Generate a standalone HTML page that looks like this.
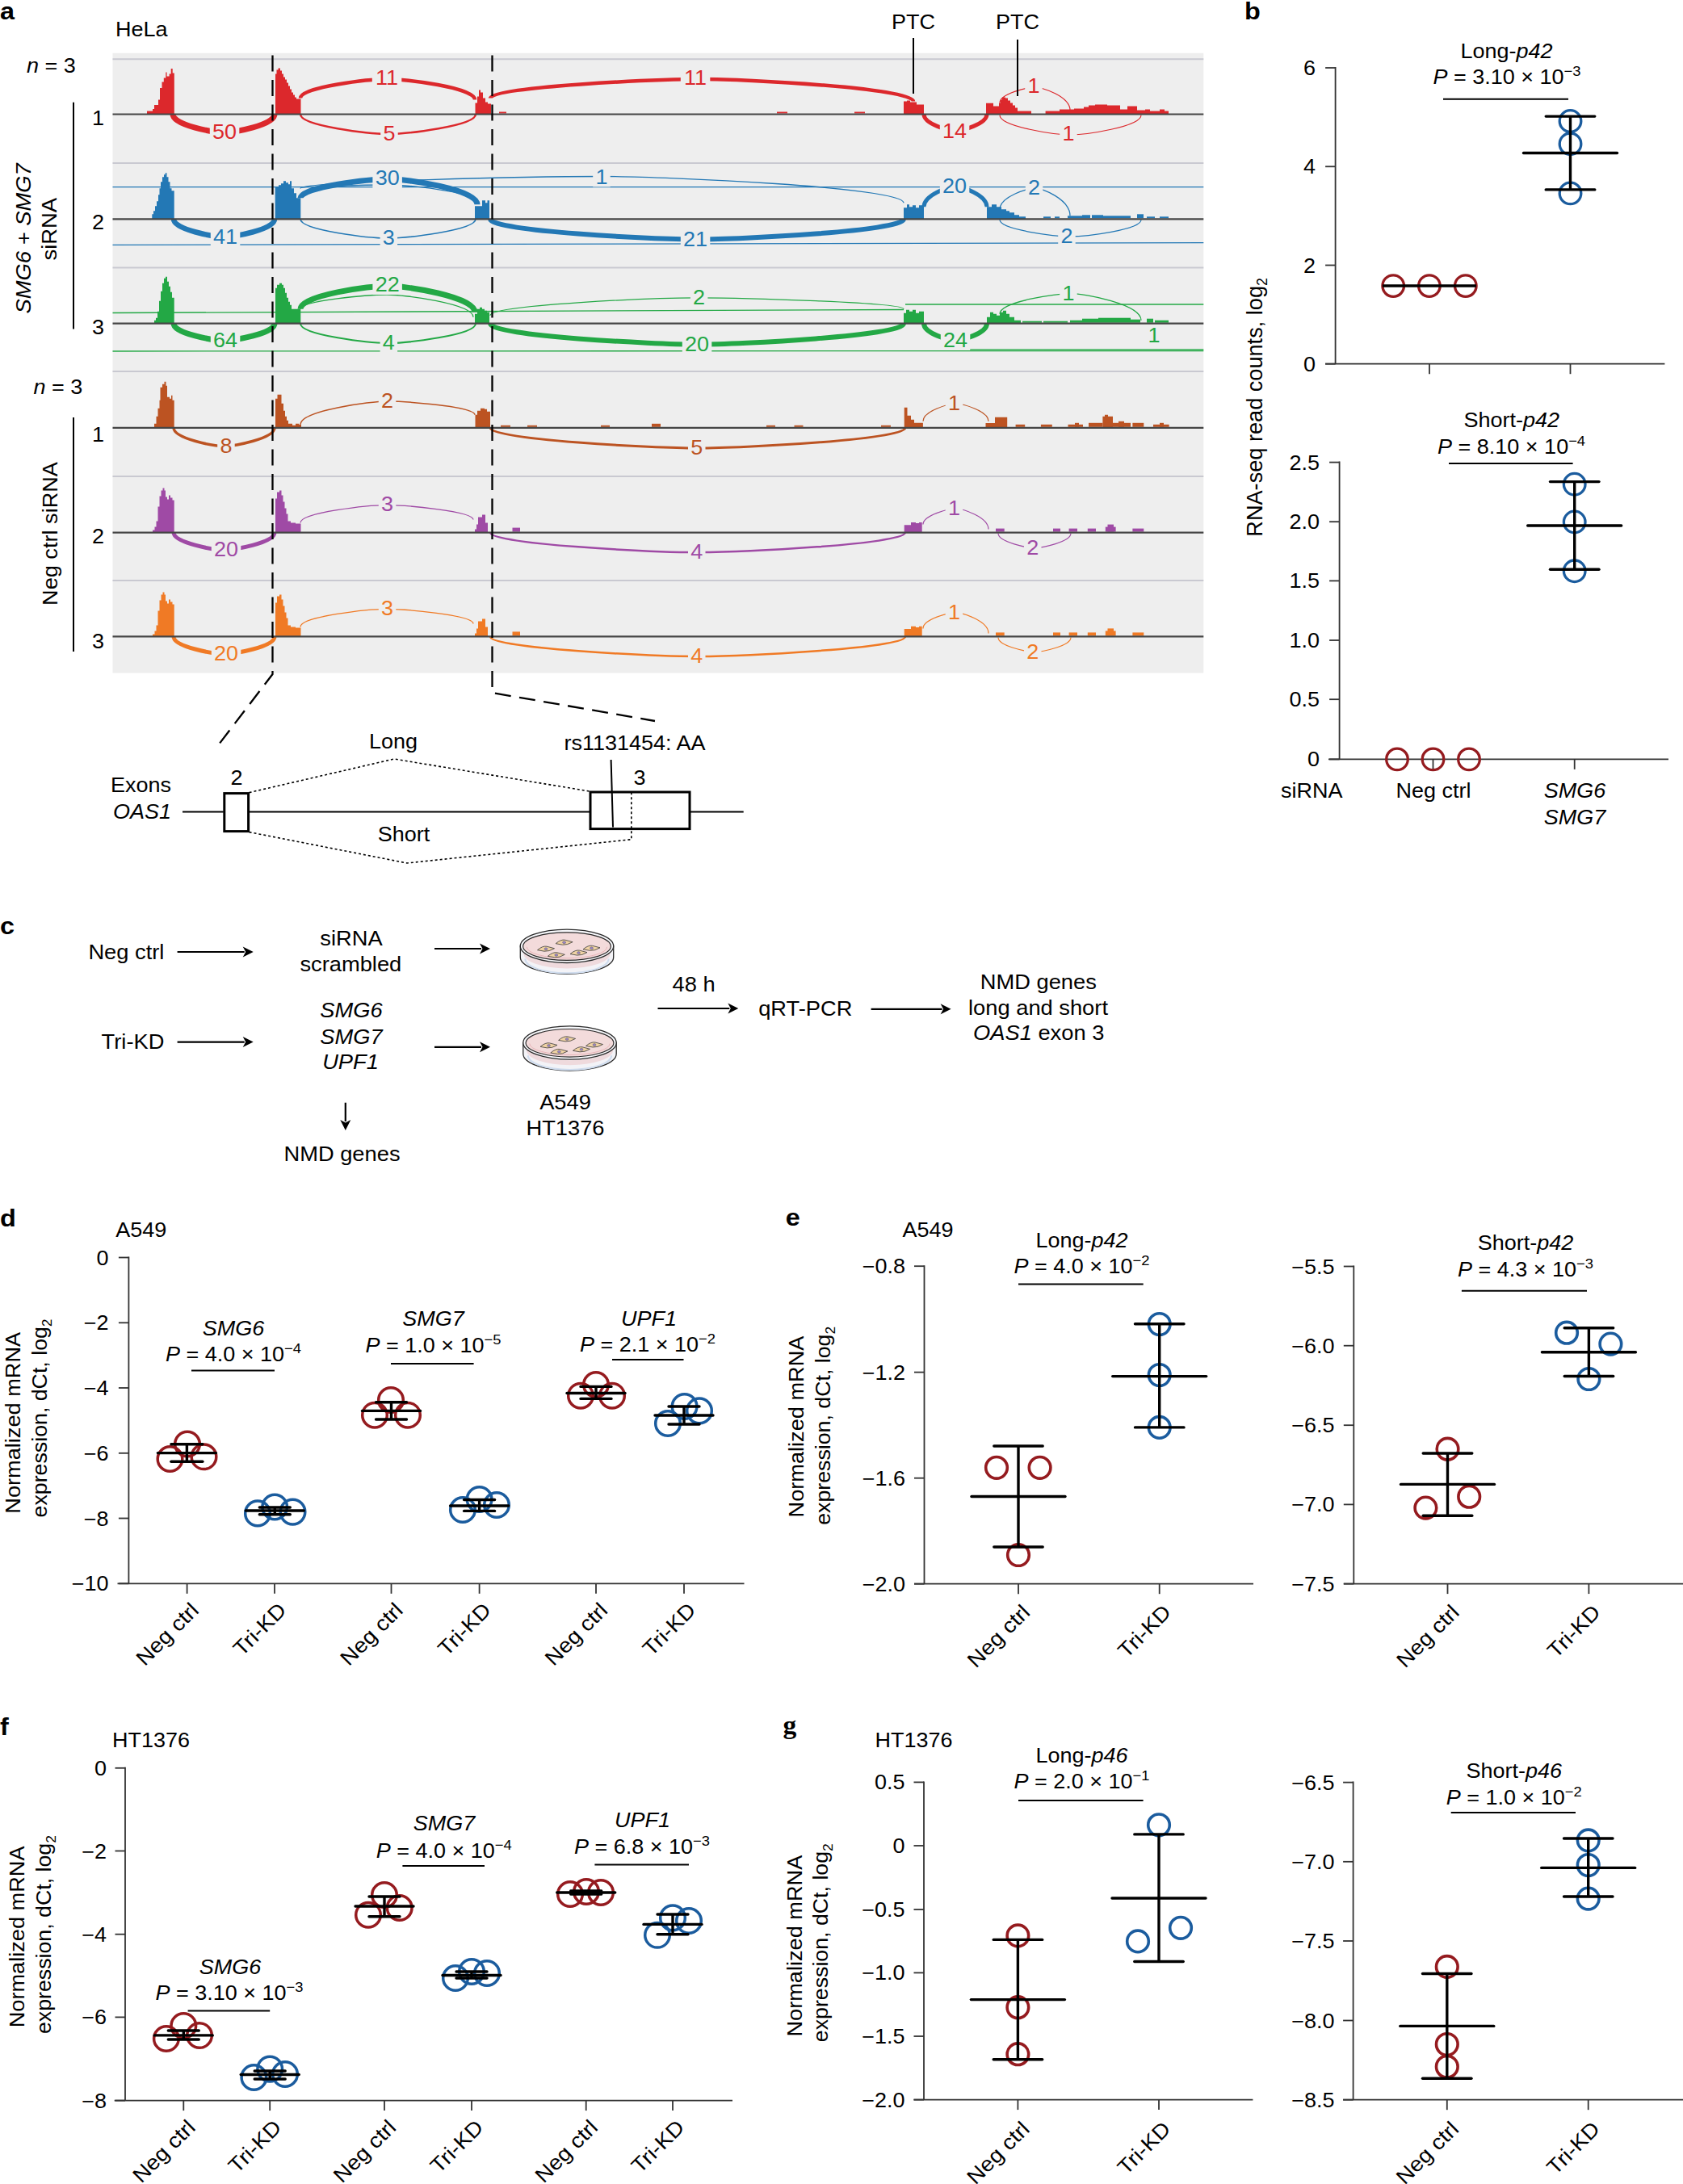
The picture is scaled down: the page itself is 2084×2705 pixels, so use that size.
<!DOCTYPE html>
<html><head><meta charset="utf-8"><title>Figure</title>
<style>
html,body{margin:0;padding:0;background:#fff;}
svg{display:block;}
text{font-family:"Liberation Sans",Arial,Helvetica,sans-serif;}
</style></head><body>
<svg width="2084" height="2705" viewBox="0 0 2084 2705">
<rect width="2084" height="2705" fill="#fff"/>
<rect x="139.5" y="65.8" width="1350.8" height="767.7" fill="#eeeeee"/>
<line x1="139.5" y1="73.3" x2="1490.3" y2="73.3" stroke="#c9c9d1" stroke-width="2"/>
<line x1="139.5" y1="202" x2="1490.3" y2="202" stroke="#c9c9d1" stroke-width="2"/>
<line x1="139.5" y1="331.6" x2="1490.3" y2="331.6" stroke="#c9c9d1" stroke-width="2"/>
<line x1="139.5" y1="460" x2="1490.3" y2="460" stroke="#c9c9d1" stroke-width="2"/>
<line x1="139.5" y1="590" x2="1490.3" y2="590" stroke="#c9c9d1" stroke-width="2"/>
<line x1="139.5" y1="719" x2="1490.3" y2="719" stroke="#c9c9d1" stroke-width="2"/>
<path d="M1238,127.5 C1238,115.8 1272.8,108 1281.5,108 C1290.2,108 1325,119.4 1325,136.5" stroke="#dc282c" stroke-width="1.2" fill="none" stroke-linecap="butt"/>
<path d="M1238,142.5 C1238,157.2 1308,167 1325.5,167 C1343,167 1413,157.2 1413,142.5" stroke="#dc282c" stroke-width="1.2" fill="none" stroke-linecap="butt"/>
<polygon points="182,141.5 182,137.5 189,137.5 189,135 191,135 191,130 196,130 196,123.5 198,123.5 198,109 200.5,109 200.5,101.5 202.8,101.5 202.8,96.5 205.3,96.5 205.3,89.5 206.6,89.5 206.6,94.5 209.6,94.5 209.6,91.5 211.7,91.5 211.7,85 213.7,85 213.7,90.5 215.8,90.5 215.8,141.5" fill="#dc282c"/>
<polygon points="341,141.5 341,91.5 342.5,91.5 342.5,86.5 344.5,86.5 344.5,84.5 347,84.5 347,87.5 349,87.5 349,91.5 351,91.5 351,95.5 353,95.5 353,98.5 355,98.5 355,102.5 357,102.5 357,106.5 359,106.5 359,110.5 361,110.5 361,114.5 363,114.5 363,117.5 365,117.5 365,120.5 367,120.5 367,122.5 372.5,122.5 372.5,141.5" fill="#dc282c"/>
<polygon points="588.5,141.5 588.5,127.5 591,127.5 591,119.5 593,119.5 593,111.5 595,111.5 595,114.5 598,114.5 598,121.5 601,121.5 601,126.5 604,126.5 604,128.5 608,128.5 608,141.5" fill="#dc282c"/>
<polygon points="1119,141.5 1119,125.5 1123,125.5 1123,124.5 1127,124.5 1127,126.5 1135,126.5 1135,129.5 1144,129.5 1144,141.5" fill="#dc282c"/>
<polygon points="1221,141.5 1221,127.8 1230,127.8 1230,131.5 1237,131.5 1237,127.5 1239,127.5 1239,123.5 1241,123.5 1241,120.5 1245,120.5 1245,121.5 1248,121.5 1248,124.5 1251,124.5 1251,127.5 1254,127.5 1254,130.5 1257,130.5 1257,133.5 1260,133.5 1260,137.5 1277,137.5 1277,141.5" fill="#dc282c"/>
<polygon points="1294.6,141.5 1294.6,137.5 1312,137.5 1312,135.5 1330,135.5 1330,134.5 1342,134.5 1342,132.5 1348,132.5 1348,130.5 1356,130.5 1356,129.5 1371,129.5 1371,130.5 1387,130.5 1387,135.5 1396,135.5 1396,131.5 1408,131.5 1408,136.5 1418,136.5 1418,135.5 1424,135.5 1424,137.5 1436,137.5 1436,135.5 1442,135.5 1442,137.5 1447,137.5 1447,141.5" fill="#dc282c"/>
<rect x="618" y="138.5" width="9" height="2" fill="#dc282c"/>
<rect x="962" y="138.5" width="13" height="2" fill="#dc282c"/>
<rect x="1058" y="138.5" width="13" height="2" fill="#dc282c"/>
<path d="M214,141.5 C214,155 264.4,164 277,164 C289.6,164 340,155 340,141.5" stroke="#dc282c" stroke-width="7" fill="none" stroke-linecap="butt"/>
<path d="M372,141.5 C372,156.2 458.8,166 480.5,166 C502.2,166 589,156.2 589,141.5" stroke="#dc282c" stroke-width="2.5" fill="none" stroke-linecap="butt"/>
<path d="M372,121.5 C372,107.4 458.4,98 480,98 C501.6,98 588,108.2 588,123.5" stroke="#dc282c" stroke-width="4.5" fill="none" stroke-linecap="butt"/>
<path d="M607,121.5 C607,107.4 816.6,98 869,98 C921.4,98 1131,109 1131,125.5" stroke="#dc282c" stroke-width="4.5" fill="none" stroke-linecap="butt"/>
<path d="M1144,141.5 C1144,153.8 1175.2,162 1183,162 C1190.8,162 1222,153.8 1222,141.5" stroke="#dc282c" stroke-width="5" fill="none" stroke-linecap="butt"/>
<line x1="139.5" y1="231.6" x2="1490.3" y2="231.6" stroke="#2378b5" stroke-width="1.3"/>
<line x1="139.5" y1="303.3" x2="1490.3" y2="300.7" stroke="#2378b5" stroke-width="1.3"/>
<path d="M372,233.3 C372,224.4 670.8,218.5 745.5,218.5 C820.2,218.5 1119,231.6 1119,251.3" stroke="#2378b5" stroke-width="1.3" fill="none" stroke-linecap="butt"/>
<path d="M372,233.3 C372,230.7 458.4,229 480,229 C501.6,229 588,237.1 588,249.3" stroke="#2378b5" stroke-width="1.3" fill="none" stroke-linecap="butt"/>
<path d="M1238,259.3 C1238,243.5 1272.8,233 1281.5,233 C1290.2,233 1325,246.7 1325,267.3" stroke="#2378b5" stroke-width="1.3" fill="none" stroke-linecap="butt"/>
<path d="M1238,272.3 C1238,284.7 1308,293 1325.5,293 C1343,293 1413,284.7 1413,272.3" stroke="#2378b5" stroke-width="1.3" fill="none" stroke-linecap="butt"/>
<path d="M372,271.3 C372,285.5 458.8,295 480.5,295 C502.2,295 589,285.5 589,271.3" stroke="#2378b5" stroke-width="1.6" fill="none" stroke-linecap="butt"/>
<polygon points="188.3,271.3 188.3,265.3 190,265.3 190,261.3 192,261.3 192,255.3 194,255.3 194,249.3 196,249.3 196,241.3 197.5,241.3 197.5,233.3 199,233.3 199,225.3 201,225.3 201,219.3 203,219.3 203,216.3 204.7,216.3 204.7,214.3 206.5,214.3 206.5,219.3 208.5,219.3 208.5,225.3 210.5,225.3 210.5,233.3 212.5,233.3 212.5,236.3 215.7,236.3 215.7,271.3" fill="#2378b5"/>
<polygon points="340.7,271.3 340.7,231.3 345,231.3 345,229.3 348,229.3 348,227.3 351,227.3 351,224.3 354,224.3 354,226.3 357,226.3 357,228.3 359,228.3 359,224.3 361,224.3 361,233.3 364,233.3 364,239.3 367,239.3 367,245.3 372.3,245.3 372.3,271.3" fill="#2378b5"/>
<polygon points="588,271.3 588,255.3 593,255.3 593,255.3 597,255.3 597,248.3 601,248.3 601,251.3 603.5,251.3 603.5,248.3 606,248.3 606,271.3" fill="#2378b5"/>
<polygon points="1119,271.3 1119,257.3 1123,257.3 1123,253.3 1126,253.3 1126,256.3 1130,256.3 1130,254.3 1134,254.3 1134,257.3 1138,257.3 1138,254.3 1144,254.3 1144,271.3" fill="#2378b5"/>
<polygon points="1222,271.3 1222,256.3 1228,256.3 1228,253.3 1234,253.3 1234,256.3 1240,256.3 1240,259.3 1246,259.3 1246,261.3 1250,261.3 1250,263.3 1256,263.3 1256,266.3 1262,266.3 1262,268.3 1270,268.3 1270,271.3" fill="#2378b5"/>
<rect x="1292" y="268.3" width="9" height="2" fill="#2378b5"/>
<rect x="1306" y="268.3" width="6" height="2" fill="#2378b5"/>
<rect x="1322" y="267.3" width="18" height="3" fill="#2378b5"/>
<rect x="1340" y="266.3" width="10" height="4" fill="#2378b5"/>
<rect x="1352" y="266.3" width="14" height="4" fill="#2378b5"/>
<rect x="1366" y="267.3" width="14" height="3" fill="#2378b5"/>
<rect x="1380" y="267.3" width="20" height="3" fill="#2378b5"/>
<rect x="1408" y="265.3" width="8" height="5" fill="#2378b5"/>
<rect x="1420" y="268.3" width="10" height="2" fill="#2378b5"/>
<rect x="1436" y="268.3" width="11" height="2" fill="#2378b5"/>
<path d="M215,271.3 C215,284.5 265,293.3 277.5,293.3 C290,293.3 340,284.5 340,271.3" stroke="#2378b5" stroke-width="6.5" fill="none" stroke-linecap="butt"/>
<path d="M372,245.3 C372,231.1 459.6,221.7 481.5,221.7 C503.4,221.7 591,234.3 591,253.3" stroke="#2378b5" stroke-width="7" fill="none" stroke-linecap="butt"/>
<path d="M607,271.3 C607,286.4 811.8,296.5 863,296.5 C914.2,296.5 1119,286.4 1119,271.3" stroke="#2378b5" stroke-width="6" fill="none" stroke-linecap="butt"/>
<path d="M1144,256.3 C1144,241.1 1175.2,231 1183,231 C1190.8,231 1222,241.1 1222,256.3" stroke="#2378b5" stroke-width="5" fill="none" stroke-linecap="butt"/>
<line x1="139.5" y1="387.5" x2="1119" y2="383.5" stroke="#23a845" stroke-width="1.3"/>
<line x1="139.5" y1="435" x2="1490.3" y2="434.5" stroke="#23a845" stroke-width="1.3"/>
<line x1="1121" y1="377" x2="1490.3" y2="377" stroke="#23a845" stroke-width="1.3"/>
<line x1="1201" y1="432.9" x2="1490.3" y2="432.9" stroke="#23a845" stroke-width="1.3"/>
<path d="M372,382.7 C372,372.1 457.6,365 479,365 C500.4,365 586,376.1 586,392.7" stroke="#23a845" stroke-width="1.3" fill="none" stroke-linecap="butt"/>
<path d="M607,390.7 C607,377.6 811.8,368.8 863,368.8 C914.2,368.8 1119,374.4 1119,382.7" stroke="#23a845" stroke-width="1.3" fill="none" stroke-linecap="butt"/>
<path d="M1238,388.7 C1238,373.6 1308,363.6 1325.5,363.6 C1343,363.6 1413,376.8 1413,396.7" stroke="#23a845" stroke-width="1.3" fill="none" stroke-linecap="butt"/>
<path d="M372,400.7 C372,415.3 458.8,425 480.5,425 C502.2,425 589,415.3 589,400.7" stroke="#23a845" stroke-width="2" fill="none" stroke-linecap="butt"/>
<polygon points="191,400.7 191,396.7 193,396.7 193,393.7 195,393.7 195,385.7 197,385.7 197,372.7 199,372.7 199,360.7 201,360.7 201,350.7 203,350.7 203,344.7 205,344.7 205,342.7 207,342.7 207,348.7 209,348.7 209,354.7 211,354.7 211,361.7 213,361.7 213,368.7 215.7,368.7 215.7,400.7" fill="#23a845"/>
<polygon points="341,400.7 341,356.7 343,356.7 343,352.7 346,352.7 346,350.7 349,350.7 349,352.7 351,352.7 351,356.7 353,356.7 353,362.7 355,362.7 355,368.7 357,368.7 357,373.7 359,373.7 359,377.7 361,377.7 361,382.7 372.3,382.7 372.3,400.7" fill="#23a845"/>
<polygon points="588,400.7 588,388.7 591,388.7 591,382.7 594,382.7 594,380.7 597,380.7 597,382.7 600,382.7 600,384.7 603,384.7 603,386.7 606,386.7 606,400.7" fill="#23a845"/>
<polygon points="1119,400.7 1119,387.7 1122,387.7 1122,383.7 1126,383.7 1126,385.7 1130,385.7 1130,383.7 1134,383.7 1134,387.7 1138,387.7 1138,385.7 1144,385.7 1144,400.7" fill="#23a845"/>
<polygon points="1222,400.7 1222,392.7 1226,392.7 1226,386.7 1230,386.7 1230,388.7 1234,388.7 1234,390.7 1238,390.7 1238,386.7 1242,386.7 1242,384.7 1246,384.7 1246,388.7 1250,388.7 1250,392.7 1256,392.7 1256,396.7 1264,396.7 1264,400.7" fill="#23a845"/>
<rect x="1266" y="397.7" width="24" height="2" fill="#23a845"/>
<rect x="1292" y="397.7" width="30" height="2" fill="#23a845"/>
<rect x="1325" y="396.7" width="15" height="3" fill="#23a845"/>
<rect x="1340" y="394.7" width="20" height="5" fill="#23a845"/>
<rect x="1360" y="393.7" width="22" height="6" fill="#23a845"/>
<rect x="1382" y="393.7" width="18" height="6" fill="#23a845"/>
<rect x="1400" y="395.7" width="12" height="4" fill="#23a845"/>
<rect x="1420" y="394.7" width="8" height="5" fill="#23a845"/>
<rect x="1430" y="396.7" width="17" height="3" fill="#23a845"/>
<path d="M215,400.7 C215,413.3 265,421.7 277.5,421.7 C290,421.7 340,413.3 340,400.7" stroke="#23a845" stroke-width="7" fill="none" stroke-linecap="butt"/>
<path d="M372,382.7 C372,365.5 458.4,354 480,354 C501.6,354 588,367.1 588,386.7" stroke="#23a845" stroke-width="7" fill="none" stroke-linecap="butt"/>
<path d="M607,400.7 C607,416.2 811.8,426.5 863,426.5 C914.2,426.5 1119,416.2 1119,400.7" stroke="#23a845" stroke-width="6" fill="none" stroke-linecap="butt"/>
<path d="M1144,400.7 C1144,413.1 1175.2,421.4 1183,421.4 C1190.8,421.4 1222,413.1 1222,400.7" stroke="#23a845" stroke-width="6" fill="none" stroke-linecap="butt"/>
<polygon points="191,529.8 191,524.8 193.5,524.8 193.5,515.8 195.5,515.8 195.5,505.8 197.5,505.8 197.5,495.8 198.5,495.8 198.5,479.8 201,479.8 201,475.8 203.5,475.8 203.5,472.8 205.5,472.8 205.5,477.8 207,477.8 207,491.8 210,491.8 210,493.8 212,493.8 212,489.8 213.5,489.8 213.5,495.8 215.7,495.8 215.7,529.8" fill="#bc5322"/>
<polygon points="341,529.8 341,493.8 343.5,493.8 343.5,488.8 346.5,488.8 346.5,488.8 348.5,488.8 348.5,499.8 351,499.8 351,508.8 353,508.8 353,515.8 355,515.8 355,520.8 357,520.8 357,524.8 362,524.8 362,526.8 366,526.8 366,524.8 370,524.8 370,525.8 373,525.8 373,529.8" fill="#bc5322"/>
<polygon points="588.5,529.8 588.5,513.8 591,513.8 591,508.8 595,508.8 595,505.8 600,505.8 600,506.8 603,506.8 603,509.8 607,509.8 607,529.8" fill="#bc5322"/>
<polygon points="1119.7,529.8 1119.7,504.8 1123.5,504.8 1123.5,514.8 1128,514.8 1128,519.8 1132,519.8 1132,523.8 1142.9,523.8 1142.9,529.8" fill="#bc5322"/>
<polygon points="1220.5,529.8 1220.5,524 1232,524 1232,516.8 1247.2,516.8 1247.2,529.8" fill="#bc5322"/>
<polygon points="1365.4,529.8 1365.4,515.8 1368,515.8 1368,513.8 1372,513.8 1372,515.8 1378,515.8 1378,529.8" fill="#bc5322"/>
<rect x="620" y="526.8" width="12" height="2" fill="#bc5322"/>
<rect x="653" y="526.8" width="12" height="2" fill="#bc5322"/>
<rect x="744" y="526.8" width="11" height="2" fill="#bc5322"/>
<rect x="807" y="524.8" width="11" height="4" fill="#bc5322"/>
<rect x="949" y="526.8" width="11" height="2" fill="#bc5322"/>
<rect x="983.5" y="526.8" width="11" height="2" fill="#bc5322"/>
<rect x="1091" y="526.8" width="12" height="2" fill="#bc5322"/>
<rect x="1257.6" y="525.8" width="11.6" height="3" fill="#bc5322"/>
<rect x="1288.9" y="525.8" width="13.9" height="3" fill="#bc5322"/>
<rect x="1322.5" y="525.8" width="18.5" height="3" fill="#bc5322"/>
<rect x="1331" y="523.8" width="5" height="5" fill="#bc5322"/>
<rect x="1348" y="523.8" width="17.4" height="5" fill="#bc5322"/>
<rect x="1378" y="523.8" width="22" height="5" fill="#bc5322"/>
<rect x="1385" y="521.8" width="7" height="7" fill="#bc5322"/>
<rect x="1402.4" y="523.8" width="13.9" height="5" fill="#bc5322"/>
<rect x="1428" y="525.8" width="19.6" height="3" fill="#bc5322"/>
<rect x="1436" y="523.8" width="5" height="5" fill="#bc5322"/>
<path d="M215,529.8 C215,543.4 265,552.5 277.5,552.5 C290,552.5 340,543.4 340,529.8" stroke="#bc5322" stroke-width="3.5" fill="none" stroke-linecap="butt"/>
<path d="M372,525.8 C372,508.5 458.4,497 480,497 C501.6,497 588,503.7 588,513.8" stroke="#bc5322" stroke-width="1.5" fill="none" stroke-linecap="butt"/>
<path d="M607,529.8 C607,544.9 812.6,555 864,555 C915.4,555 1121,544.9 1121,529.8" stroke="#bc5322" stroke-width="3" fill="none" stroke-linecap="butt"/>
<path d="M1143,521.8 C1143,508.7 1175.4,500 1183.5,500 C1191.6,500 1224,508.7 1224,521.8" stroke="#bc5322" stroke-width="1.2" fill="none" stroke-linecap="butt"/>
<polygon points="189,659.6 189,656.6 191.5,656.6 191.5,652.6 193.5,652.6 193.5,645.6 195.5,645.6 195.5,627.6 197.5,627.6 197.5,614.6 199.5,614.6 199.5,607.6 201.5,607.6 201.5,604.6 203.5,604.6 203.5,607.6 205,607.6 205,615.6 207,615.6 207,618.6 209,618.6 209,613.6 211,613.6 211,616.6 213.5,616.6 213.5,619.6 215.7,619.6 215.7,659.6" fill="#9f4aa5"/>
<polygon points="341,659.6 341,617.6 343,617.6 343,609.6 346,609.6 346,607.6 348.5,607.6 348.5,613.6 350.5,613.6 350.5,621.6 352.5,621.6 352.5,629.6 354.5,629.6 354.5,636.6 356.5,636.6 356.5,645.6 360,645.6 360,647.6 366,647.6 366,648.6 372.5,648.6 372.5,659.6" fill="#9f4aa5"/>
<polygon points="588,659.6 588,655.6 590,655.6 590,649.6 592,649.6 592,640.6 597,640.6 597,637.6 601,637.6 601,647.6 604,647.6 604,659.6" fill="#9f4aa5"/>
<polygon points="1119.7,659.6 1119.7,650.3 1128,650.3 1128,646.9 1134,646.9 1134,648.1 1138,648.1 1138,646.9 1141.7,646.9 1141.7,659.6" fill="#9f4aa5"/>
<rect x="634.5" y="653.6" width="9.5" height="5" fill="#9f4aa5"/>
<rect x="1233" y="654.6" width="10.7" height="4" fill="#9f4aa5"/>
<rect x="1304" y="654.6" width="9" height="4" fill="#9f4aa5"/>
<rect x="1323.6" y="654.6" width="10.4" height="4" fill="#9f4aa5"/>
<rect x="1346.8" y="654.6" width="10.2" height="4" fill="#9f4aa5"/>
<rect x="1368.8" y="652.6" width="12.8" height="6" fill="#9f4aa5"/>
<rect x="1371.5" y="649.6" width="7.5" height="9" fill="#9f4aa5"/>
<rect x="1402.4" y="654.6" width="13.9" height="4" fill="#9f4aa5"/>
<path d="M215,659.6 C215,672.5 265,681.1 277.5,681.1 C290,681.1 340,672.5 340,659.6" stroke="#9f4aa5" stroke-width="5" fill="none" stroke-linecap="butt"/>
<path d="M372,647.6 C372,634.4 457.6,625.6 479,625.6 C500.4,625.6 586,632.8 586,643.6" stroke="#9f4aa5" stroke-width="1.3" fill="none" stroke-linecap="butt"/>
<path d="M607,659.6 C607,674.3 812.6,684.1 864,684.1 C915.4,684.1 1121,674.3 1121,659.6" stroke="#9f4aa5" stroke-width="2.5" fill="none" stroke-linecap="butt"/>
<path d="M1143,649.6 C1143,637.8 1175.4,630 1183.5,630 C1191.6,630 1224,640.2 1224,655.6" stroke="#9f4aa5" stroke-width="1.2" fill="none" stroke-linecap="butt"/>
<path d="M1236,660.6 C1236,671.4 1272,678.6 1281,678.6 C1290,678.6 1326,671.4 1326,660.6" stroke="#9f4aa5" stroke-width="1.2" fill="none" stroke-linecap="butt"/>
<polygon points="189,788.4 189,785.4 191.5,785.4 191.5,781.4 193.5,781.4 193.5,774.4 195.5,774.4 195.5,756.4 197.5,756.4 197.5,743.4 199.5,743.4 199.5,736.4 201.5,736.4 201.5,733.4 203.5,733.4 203.5,736.4 205,736.4 205,744.4 207,744.4 207,747.4 209,747.4 209,742.4 211,742.4 211,745.4 213.5,745.4 213.5,748.4 215.7,748.4 215.7,788.4" fill="#f07a25"/>
<polygon points="341,788.4 341,746.4 343,746.4 343,738.4 346,738.4 346,736.4 348.5,736.4 348.5,742.4 350.5,742.4 350.5,750.4 352.5,750.4 352.5,758.4 354.5,758.4 354.5,765.4 356.5,765.4 356.5,774.4 360,774.4 360,776.4 366,776.4 366,777.4 372.5,777.4 372.5,788.4" fill="#f07a25"/>
<polygon points="588,788.4 588,784.4 590,784.4 590,778.4 592,778.4 592,769.4 597,769.4 597,766.4 601,766.4 601,776.4 604,776.4 604,788.4" fill="#f07a25"/>
<polygon points="1119.7,788.4 1119.7,779.1 1128,779.1 1128,775.7 1134,775.7 1134,776.9 1138,776.9 1138,775.7 1141.7,775.7 1141.7,788.4" fill="#f07a25"/>
<rect x="634.5" y="782.4" width="9.5" height="5" fill="#f07a25"/>
<rect x="1233" y="783.4" width="10.7" height="4" fill="#f07a25"/>
<rect x="1304" y="783.4" width="9" height="4" fill="#f07a25"/>
<rect x="1323.6" y="783.4" width="10.4" height="4" fill="#f07a25"/>
<rect x="1346.8" y="783.4" width="10.2" height="4" fill="#f07a25"/>
<rect x="1368.8" y="781.4" width="12.8" height="6" fill="#f07a25"/>
<rect x="1371.5" y="778.4" width="7.5" height="9" fill="#f07a25"/>
<rect x="1402.4" y="783.4" width="13.9" height="4" fill="#f07a25"/>
<path d="M215,788.4 C215,801.3 265,809.9 277.5,809.9 C290,809.9 340,801.3 340,788.4" stroke="#f07a25" stroke-width="5" fill="none" stroke-linecap="butt"/>
<path d="M372,776.4 C372,763.2 457.6,754.4 479,754.4 C500.4,754.4 586,761.6 586,772.4" stroke="#f07a25" stroke-width="1.3" fill="none" stroke-linecap="butt"/>
<path d="M607,788.4 C607,803.1 812.6,812.9 864,812.9 C915.4,812.9 1121,803.1 1121,788.4" stroke="#f07a25" stroke-width="2.5" fill="none" stroke-linecap="butt"/>
<path d="M1143,778.4 C1143,766.6 1175.4,758.8 1183.5,758.8 C1191.6,758.8 1224,769 1224,784.4" stroke="#f07a25" stroke-width="1.2" fill="none" stroke-linecap="butt"/>
<path d="M1236,789.4 C1236,800.2 1272,807.4 1281,807.4 C1290,807.4 1326,800.2 1326,789.4" stroke="#f07a25" stroke-width="1.2" fill="none" stroke-linecap="butt"/>
<rect x="259.8" y="152" width="36.5" height="24" fill="#eeeeee"/>
<text font-size="25" text-anchor="middle" fill="#dc282c" transform="translate(278 172.2) scale(1.080 1)">50</text>
<rect x="471.2" y="154" width="21.5" height="24" fill="#eeeeee"/>
<text font-size="25" text-anchor="middle" fill="#dc282c" transform="translate(482 174.2) scale(1.080 1)">5</text>
<rect x="460.8" y="85" width="36.5" height="24" fill="#eeeeee"/>
<text font-size="25" text-anchor="middle" fill="#dc282c" transform="translate(479 105.2) scale(1.080 1)">11</text>
<rect x="842.8" y="85" width="36.5" height="24" fill="#eeeeee"/>
<text font-size="25" text-anchor="middle" fill="#dc282c" transform="translate(861 105.2) scale(1.080 1)">11</text>
<rect x="1163.8" y="150.6" width="36.5" height="24" fill="#eeeeee"/>
<text font-size="25" text-anchor="middle" fill="#dc282c" transform="translate(1182 170.8) scale(1.080 1)">14</text>
<rect x="1269.2" y="95" width="21.5" height="24" fill="#eeeeee"/>
<text font-size="25" text-anchor="middle" fill="#dc282c" transform="translate(1280 115.2) scale(1.080 1)">1</text>
<rect x="1312.2" y="154" width="21.5" height="24" fill="#eeeeee"/>
<text font-size="25" text-anchor="middle" fill="#dc282c" transform="translate(1323 174.2) scale(1.080 1)">1</text>
<rect x="260.8" y="281.3" width="36.5" height="24" fill="#eeeeee"/>
<text font-size="25" text-anchor="middle" fill="#2378b5" transform="translate(279 301.5) scale(1.080 1)">41</text>
<rect x="461.4" y="209" width="36.5" height="24" fill="#eeeeee"/>
<text font-size="25" text-anchor="middle" fill="#2378b5" transform="translate(479.7 229.2) scale(1.080 1)">30</text>
<rect x="842.8" y="284.5" width="36.5" height="24" fill="#eeeeee"/>
<text font-size="25" text-anchor="middle" fill="#2378b5" transform="translate(861 304.7) scale(1.080 1)">21</text>
<rect x="1163.8" y="219" width="36.5" height="24" fill="#eeeeee"/>
<text font-size="25" text-anchor="middle" fill="#2378b5" transform="translate(1182 239.2) scale(1.080 1)">20</text>
<rect x="734.2" y="207.5" width="21.5" height="24" fill="#eeeeee"/>
<text font-size="25" text-anchor="middle" fill="#2378b5" transform="translate(745 227.7) scale(1.080 1)">1</text>
<rect x="1269.8" y="221" width="21.5" height="24" fill="#eeeeee"/>
<text font-size="25" text-anchor="middle" fill="#2378b5" transform="translate(1280.5 241.2) scale(1.080 1)">2</text>
<rect x="1310.2" y="281" width="21.5" height="24" fill="#eeeeee"/>
<text font-size="25" text-anchor="middle" fill="#2378b5" transform="translate(1321 301.2) scale(1.080 1)">2</text>
<rect x="470.6" y="283" width="21.5" height="24" fill="#eeeeee"/>
<text font-size="25" text-anchor="middle" fill="#2378b5" transform="translate(481.3 303.2) scale(1.080 1)">3</text>
<rect x="260.8" y="409.7" width="36.5" height="24" fill="#eeeeee"/>
<text font-size="25" text-anchor="middle" fill="#23a845" transform="translate(279 429.9) scale(1.080 1)">64</text>
<rect x="461.4" y="341" width="36.5" height="24" fill="#eeeeee"/>
<text font-size="25" text-anchor="middle" fill="#23a845" transform="translate(479.7 361.2) scale(1.080 1)">22</text>
<rect x="844.8" y="414.5" width="36.5" height="24" fill="#eeeeee"/>
<text font-size="25" text-anchor="middle" fill="#23a845" transform="translate(863 434.7) scale(1.080 1)">20</text>
<rect x="1164.8" y="409.4" width="36.5" height="24" fill="#eeeeee"/>
<text font-size="25" text-anchor="middle" fill="#23a845" transform="translate(1183 429.6) scale(1.080 1)">24</text>
<rect x="470.6" y="413" width="21.5" height="24" fill="#eeeeee"/>
<text font-size="25" text-anchor="middle" fill="#23a845" transform="translate(481.3 433.2) scale(1.080 1)">4</text>
<rect x="854.9" y="356.8" width="21.5" height="24" fill="#eeeeee"/>
<text font-size="25" text-anchor="middle" fill="#23a845" transform="translate(865.6 377) scale(1.080 1)">2</text>
<rect x="1312.2" y="351.6" width="21.5" height="24" fill="#eeeeee"/>
<text font-size="25" text-anchor="middle" fill="#23a845" transform="translate(1323 371.8) scale(1.080 1)">1</text>
<rect x="1418.2" y="404" width="21.5" height="24" fill="#eeeeee"/>
<text font-size="25" text-anchor="middle" fill="#23a845" transform="translate(1429 424.2) scale(1.080 1)">1</text>
<rect x="269.2" y="540.5" width="21.5" height="24" fill="#eeeeee"/>
<text font-size="25" text-anchor="middle" fill="#bc5322" transform="translate(280 560.7) scale(1.080 1)">8</text>
<rect x="468.8" y="484.5" width="21.5" height="24" fill="#eeeeee"/>
<text font-size="25" text-anchor="middle" fill="#bc5322" transform="translate(479.5 504.7) scale(1.080 1)">2</text>
<rect x="852" y="543" width="21.5" height="24" fill="#eeeeee"/>
<text font-size="25" text-anchor="middle" fill="#bc5322" transform="translate(862.7 563.2) scale(1.080 1)">5</text>
<rect x="1170.7" y="488" width="21.5" height="24" fill="#eeeeee"/>
<text font-size="25" text-anchor="middle" fill="#bc5322" transform="translate(1181.4 508.2) scale(1.080 1)">1</text>
<rect x="261.8" y="669.1" width="36.5" height="24" fill="#eeeeee"/>
<text font-size="25" text-anchor="middle" fill="#9f4aa5" transform="translate(280 689.3) scale(1.080 1)">20</text>
<rect x="468.8" y="613.1" width="21.5" height="24" fill="#eeeeee"/>
<text font-size="25" text-anchor="middle" fill="#9f4aa5" transform="translate(479.5 633.3) scale(1.080 1)">3</text>
<rect x="852" y="672.1" width="21.5" height="24" fill="#eeeeee"/>
<text font-size="25" text-anchor="middle" fill="#9f4aa5" transform="translate(862.7 692.3) scale(1.080 1)">4</text>
<rect x="1170.7" y="618" width="21.5" height="24" fill="#eeeeee"/>
<text font-size="25" text-anchor="middle" fill="#9f4aa5" transform="translate(1181.4 638.2) scale(1.080 1)">1</text>
<rect x="1268" y="666.6" width="21.5" height="24" fill="#eeeeee"/>
<text font-size="25" text-anchor="middle" fill="#9f4aa5" transform="translate(1278.7 686.8) scale(1.080 1)">2</text>
<rect x="261.8" y="797.9" width="36.5" height="24" fill="#eeeeee"/>
<text font-size="25" text-anchor="middle" fill="#f07a25" transform="translate(280 818.1) scale(1.080 1)">20</text>
<rect x="468.8" y="741.9" width="21.5" height="24" fill="#eeeeee"/>
<text font-size="25" text-anchor="middle" fill="#f07a25" transform="translate(479.5 762.1) scale(1.080 1)">3</text>
<rect x="852" y="800.9" width="21.5" height="24" fill="#eeeeee"/>
<text font-size="25" text-anchor="middle" fill="#f07a25" transform="translate(862.7 821.1) scale(1.080 1)">4</text>
<rect x="1170.7" y="746.8" width="21.5" height="24" fill="#eeeeee"/>
<text font-size="25" text-anchor="middle" fill="#f07a25" transform="translate(1181.4 767) scale(1.080 1)">1</text>
<rect x="1268" y="795.4" width="21.5" height="24" fill="#eeeeee"/>
<text font-size="25" text-anchor="middle" fill="#f07a25" transform="translate(1278.7 815.6) scale(1.080 1)">2</text>
<line x1="139.5" y1="141.5" x2="1490.3" y2="141.5" stroke="#454545" stroke-width="2.2"/>
<line x1="139.5" y1="271.3" x2="1490.3" y2="271.3" stroke="#454545" stroke-width="2.2"/>
<line x1="139.5" y1="400.7" x2="1490.3" y2="400.7" stroke="#454545" stroke-width="2.2"/>
<line x1="139.5" y1="529.8" x2="1490.3" y2="529.8" stroke="#454545" stroke-width="2.2"/>
<line x1="139.5" y1="659.6" x2="1490.3" y2="659.6" stroke="#454545" stroke-width="2.2"/>
<line x1="139.5" y1="788.4" x2="1490.3" y2="788.4" stroke="#454545" stroke-width="2.2"/>
<path d="M337.5,68.5 L337.5,835 L271.7,921" stroke="#000" stroke-width="2.3" fill="none" stroke-dasharray="20 10.5"/>
<path d="M609.5,68.5 L609.5,858 L811,893" stroke="#000" stroke-width="2.3" fill="none" stroke-dasharray="20 10.5"/>
<text font-size="30" font-weight="bold" transform="translate(0 24) scale(1.080 1)">a</text>
<text font-size="25" transform="translate(143 45) scale(1.080 1)">HeLa</text>
<text font-size="25" transform="translate(33 90) scale(1.080 1)"><tspan font-style="italic">n</tspan> = 3</text>
<text font-size="25" transform="translate(41.5 488) scale(1.080 1)"><tspan font-style="italic">n</tspan> = 3</text>
<line x1="91" y1="126.8" x2="91" y2="407.4" stroke="#000" stroke-width="2"/>
<line x1="91" y1="517" x2="91" y2="807" stroke="#000" stroke-width="2"/>
<text font-size="25" text-anchor="end" transform="translate(129 154.5) scale(1.080 1)">1</text>
<text font-size="25" text-anchor="end" transform="translate(129 283.7) scale(1.080 1)">2</text>
<text font-size="25" text-anchor="end" transform="translate(129 414.4) scale(1.080 1)">3</text>
<text font-size="25" text-anchor="end" transform="translate(129 547) scale(1.080 1)">1</text>
<text font-size="25" text-anchor="end" transform="translate(129 672.7) scale(1.080 1)">2</text>
<text font-size="25" text-anchor="end" transform="translate(129 803.4) scale(1.080 1)">3</text>
<text font-size="26" text-anchor="middle" font-style="italic" transform="translate(38 295.4) rotate(-90) scale(1.053 1)">SMG6 + SMG7</text>
<text font-size="26" text-anchor="middle" transform="translate(70 283.7) rotate(-90) scale(1.056 1)">siRNA</text>
<text font-size="26" text-anchor="middle" transform="translate(71 661) rotate(-90) scale(1.044 1)">Neg ctrl siRNA</text>
<text font-size="25" text-anchor="middle" transform="translate(1131 36.4) scale(1.080 1)">PTC</text>
<line x1="1131" y1="47" x2="1131" y2="116" stroke="#000" stroke-width="2"/>
<text font-size="25" text-anchor="middle" transform="translate(1260 36.4) scale(1.080 1)">PTC</text>
<line x1="1260" y1="49" x2="1260" y2="119" stroke="#000" stroke-width="2"/>
<text font-size="25" text-anchor="middle" transform="translate(487 927) scale(1.080 1)">Long</text>
<text font-size="25" text-anchor="middle" transform="translate(786 928.6) scale(1.080 1)">rs1131454: AA</text>
<text font-size="25" text-anchor="middle" transform="translate(293 971.5) scale(1.080 1)">2</text>
<text font-size="25" text-anchor="middle" transform="translate(792 971.5) scale(1.080 1)">3</text>
<text font-size="25" text-anchor="end" transform="translate(212 980.6) scale(1.080 1)">Exons</text>
<text font-size="25" text-anchor="end" font-style="italic" transform="translate(212 1014.4) scale(1.080 1)">OAS1</text>
<text font-size="25" text-anchor="middle" transform="translate(500 1042) scale(1.080 1)">Short</text>
<line x1="226" y1="1005.4" x2="276.8" y2="1005.4" stroke="#000" stroke-width="2"/>
<line x1="308.6" y1="1005.4" x2="730" y2="1005.4" stroke="#000" stroke-width="2"/>
<line x1="855" y1="1005.4" x2="920.7" y2="1005.4" stroke="#000" stroke-width="2"/>
<rect x="277.8" y="982.6" width="29.8" height="47" fill="none" stroke="#000" stroke-width="3"/>
<rect x="731" y="981" width="123" height="45.6" fill="none" stroke="#000" stroke-width="3"/>
<path d="M308.6,981.6 L488,940 L730,980" stroke="#000" stroke-width="1.6" fill="none" stroke-dasharray="3 3"/>
<path d="M308.6,1030.6 L504,1069 L781.8,1039.7 L781.8,982" stroke="#000" stroke-width="1.6" fill="none" stroke-dasharray="3 3"/>
<line x1="756.6" y1="941" x2="759" y2="1024.5" stroke="#000" stroke-width="2"/>
<text font-size="30" font-weight="bold" transform="translate(1541 24) scale(1.080 1)">b</text>
<line x1="1653.6" y1="83" x2="1653.6" y2="450.7" stroke="#333" stroke-width="1.8"/>
<line x1="1641.1" y1="84" x2="1653.6" y2="84" stroke="#333" stroke-width="1.8"/>
<text font-size="25" text-anchor="end" transform="translate(1629 93) scale(1.080 1)">6</text>
<line x1="1641.1" y1="206.3" x2="1653.6" y2="206.3" stroke="#333" stroke-width="1.8"/>
<text font-size="25" text-anchor="end" transform="translate(1629 215.3) scale(1.080 1)">4</text>
<line x1="1641.1" y1="328.5" x2="1653.6" y2="328.5" stroke="#333" stroke-width="1.8"/>
<text font-size="25" text-anchor="end" transform="translate(1629 337.5) scale(1.080 1)">2</text>
<line x1="1641.1" y1="450.7" x2="1653.6" y2="450.7" stroke="#333" stroke-width="1.8"/>
<text font-size="25" text-anchor="end" transform="translate(1629 459.7) scale(1.080 1)">0</text>
<line x1="1641" y1="450.7" x2="2061.4" y2="450.7" stroke="#333" stroke-width="1.8"/>
<line x1="1770" y1="450.7" x2="1770" y2="463.2" stroke="#333" stroke-width="1.8"/>
<line x1="1944.5" y1="450.7" x2="1944.5" y2="463.2" stroke="#333" stroke-width="1.8"/>
<text font-size="25" text-anchor="middle" transform="translate(1865.5 72.2) scale(1.080 1)">Long-<tspan font-style="italic">p42</tspan></text>
<text font-size="25" text-anchor="middle" transform="translate(1866 104) scale(1.080 1)"><tspan font-style="italic">P</tspan> = 3.10 × 10<tspan font-size="17" dy="-10">−3</tspan></text>
<line x1="1787" y1="122.8" x2="1942" y2="122.8" stroke="#000" stroke-width="2"/>
<circle cx="1725.2" cy="354.1" r="13.3" fill="none" stroke="#951b1f" stroke-width="3.3"/>
<circle cx="1769.9" cy="354.1" r="13.3" fill="none" stroke="#951b1f" stroke-width="3.3"/>
<circle cx="1814.8" cy="354.1" r="13.3" fill="none" stroke="#951b1f" stroke-width="3.3"/>
<line x1="1711.9" y1="354.1" x2="1827.9" y2="354.1" stroke="#000" stroke-width="3.5"/>
<circle cx="1944.5" cy="150" r="13.3" fill="none" stroke="#1b5c9e" stroke-width="3.3"/>
<circle cx="1944.5" cy="178.3" r="13.3" fill="none" stroke="#1b5c9e" stroke-width="3.3"/>
<circle cx="1944.5" cy="239.4" r="13.3" fill="none" stroke="#1b5c9e" stroke-width="3.3"/>
<line x1="1944.5" y1="144.1" x2="1944.5" y2="234.9" stroke="#000" stroke-width="3.4"/>
<line x1="1914.2" y1="144.1" x2="1974.8" y2="144.1" stroke="#000" stroke-width="3.4" stroke-linecap="round"/>
<line x1="1914.2" y1="234.9" x2="1974.8" y2="234.9" stroke="#000" stroke-width="3.4" stroke-linecap="round"/>
<line x1="1886.5" y1="189.5" x2="2002.5" y2="189.5" stroke="#000" stroke-width="3.4" stroke-linecap="round"/>
<line x1="1658.6" y1="571.6" x2="1658.6" y2="940.4" stroke="#333" stroke-width="1.8"/>
<line x1="1646.1" y1="572.6" x2="1658.6" y2="572.6" stroke="#333" stroke-width="1.8"/>
<text font-size="25" text-anchor="end" transform="translate(1634 581.6) scale(1.080 1)">2.5</text>
<line x1="1646.1" y1="646.2" x2="1658.6" y2="646.2" stroke="#333" stroke-width="1.8"/>
<text font-size="25" text-anchor="end" transform="translate(1634 655.2) scale(1.080 1)">2.0</text>
<line x1="1646.1" y1="719.4" x2="1658.6" y2="719.4" stroke="#333" stroke-width="1.8"/>
<text font-size="25" text-anchor="end" transform="translate(1634 728.4) scale(1.080 1)">1.5</text>
<line x1="1646.1" y1="793" x2="1658.6" y2="793" stroke="#333" stroke-width="1.8"/>
<text font-size="25" text-anchor="end" transform="translate(1634 802) scale(1.080 1)">1.0</text>
<line x1="1646.1" y1="866.2" x2="1658.6" y2="866.2" stroke="#333" stroke-width="1.8"/>
<text font-size="25" text-anchor="end" transform="translate(1634 875.2) scale(1.080 1)">0.5</text>
<line x1="1646.1" y1="940.4" x2="1658.6" y2="940.4" stroke="#333" stroke-width="1.8"/>
<text font-size="25" text-anchor="end" transform="translate(1634 949.4) scale(1.080 1)">0</text>
<line x1="1645" y1="940.4" x2="2066" y2="940.4" stroke="#333" stroke-width="1.8"/>
<line x1="1774.5" y1="940.4" x2="1774.5" y2="952.9" stroke="#333" stroke-width="1.8"/>
<line x1="1949.7" y1="940.4" x2="1949.7" y2="952.9" stroke="#333" stroke-width="1.8"/>
<text font-size="25" text-anchor="middle" transform="translate(1871.8 528.6) scale(1.080 1)">Short-<tspan font-style="italic">p42</tspan></text>
<text font-size="25" text-anchor="middle" transform="translate(1871.6 561.5) scale(1.080 1)"><tspan font-style="italic">P</tspan> = 8.10 × 10<tspan font-size="17" dy="-10">−4</tspan></text>
<line x1="1794" y1="574" x2="1947.6" y2="574" stroke="#000" stroke-width="2"/>
<circle cx="1730" cy="940.4" r="13.3" fill="none" stroke="#951b1f" stroke-width="3.3"/>
<circle cx="1774.5" cy="940.4" r="13.3" fill="none" stroke="#951b1f" stroke-width="3.3"/>
<circle cx="1819" cy="940.4" r="13.3" fill="none" stroke="#951b1f" stroke-width="3.3"/>
<circle cx="1949.7" cy="599.7" r="13.3" fill="none" stroke="#1b5c9e" stroke-width="3.3"/>
<circle cx="1949.7" cy="646.5" r="13.3" fill="none" stroke="#1b5c9e" stroke-width="3.3"/>
<circle cx="1949.7" cy="707.3" r="13.3" fill="none" stroke="#1b5c9e" stroke-width="3.3"/>
<line x1="1949.7" y1="596.6" x2="1949.7" y2="705.2" stroke="#000" stroke-width="3.4"/>
<line x1="1919.5" y1="596.6" x2="1980" y2="596.6" stroke="#000" stroke-width="3.4" stroke-linecap="round"/>
<line x1="1919.5" y1="705.2" x2="1980" y2="705.2" stroke="#000" stroke-width="3.4" stroke-linecap="round"/>
<line x1="1891.7" y1="651" x2="2007.7" y2="651" stroke="#000" stroke-width="3.4" stroke-linecap="round"/>
<text font-size="25" transform="translate(1586 988.3) scale(1.080 1)">siRNA</text>
<text font-size="25" text-anchor="middle" transform="translate(1775 988.3) scale(1.080 1)">Neg ctrl</text>
<text font-size="25" text-anchor="middle" font-style="italic" transform="translate(1950 988.3) scale(1.080 1)">SMG6</text>
<text font-size="25" text-anchor="middle" font-style="italic" transform="translate(1950 1021.3) scale(1.080 1)">SMG7</text>
<text font-size="27.5" text-anchor="middle" transform="translate(1563 504.4) rotate(-90) scale(0.987 1)">RNA-seq read counts, log<tspan font-size="18" dy="6">2</tspan></text>
<text font-size="30" font-weight="bold" transform="translate(0 1156.6) scale(1.080 1)">c</text>
<text font-size="26" text-anchor="end" transform="translate(203.4 1187.5) scale(1.050 1)">Neg ctrl</text>
<line x1="219.6" y1="1179" x2="302.7" y2="1179" stroke="#000" stroke-width="2.2"/>
<polygon points="313.7,1179 300.7,1185.5 304.2,1179 300.7,1172.5" fill="#000"/>
<text font-size="26" text-anchor="middle" transform="translate(435 1170.8) scale(1.050 1)">siRNA</text>
<text font-size="26" text-anchor="middle" transform="translate(434.3 1202.7) scale(1.050 1)">scrambled</text>
<line x1="538" y1="1175" x2="596" y2="1175" stroke="#000" stroke-width="2.2"/>
<polygon points="607,1175 594,1181.5 597.5,1175 594,1168.5" fill="#000"/>
<text font-size="26" text-anchor="end" transform="translate(203.4 1299) scale(1.050 1)">Tri-KD</text>
<line x1="219.6" y1="1290.6" x2="302.7" y2="1290.6" stroke="#000" stroke-width="2.2"/>
<polygon points="313.7,1290.6 300.7,1297.1 304.2,1290.6 300.7,1284.1" fill="#000"/>
<text font-size="26" text-anchor="middle" font-style="italic" transform="translate(435 1259.7) scale(1.050 1)">SMG6</text>
<text font-size="26" text-anchor="middle" font-style="italic" transform="translate(435 1293) scale(1.050 1)">SMG7</text>
<text font-size="26" text-anchor="middle" font-style="italic" transform="translate(434 1323.9) scale(1.050 1)">UPF1</text>
<line x1="538" y1="1296.8" x2="596" y2="1296.8" stroke="#000" stroke-width="2.2"/>
<polygon points="607,1296.8 594,1303.3 597.5,1296.8 594,1290.3" fill="#000"/>
<line x1="427.8" y1="1365.7" x2="427.8" y2="1389" stroke="#000" stroke-width="2.2"/>
<polygon points="427.8,1400 421.3,1387 427.8,1390.5 434.3,1387" fill="#000"/>
<text font-size="26" text-anchor="middle" transform="translate(423.5 1438) scale(1.050 1)">NMD genes</text>
<text font-size="26" text-anchor="middle" transform="translate(700 1373.8) scale(1.050 1)">A549</text>
<text font-size="26" text-anchor="middle" transform="translate(700 1405.6) scale(1.050 1)">HT1376</text>
<text font-size="26" text-anchor="middle" transform="translate(859 1227.8) scale(1.050 1)">48 h</text>
<line x1="814.5" y1="1249" x2="903.3" y2="1249" stroke="#000" stroke-width="2.2"/>
<polygon points="914.3,1249 901.3,1255.5 904.8,1249 901.3,1242.5" fill="#000"/>
<text font-size="26" text-anchor="middle" transform="translate(997.3 1258) scale(1.050 1)">qRT-PCR</text>
<line x1="1078.6" y1="1249.8" x2="1166.6" y2="1249.8" stroke="#000" stroke-width="2.2"/>
<polygon points="1177.6,1249.8 1164.6,1256.3 1168.1,1249.8 1164.6,1243.3" fill="#000"/>
<text font-size="26" text-anchor="middle" transform="translate(1285.8 1224.9) scale(1.050 1)">NMD genes</text>
<text font-size="26" text-anchor="middle" transform="translate(1285.5 1257) scale(1.050 1)">long and short</text>
<text font-size="26" text-anchor="middle" transform="translate(1286.2 1288) scale(1.050 1)"><tspan font-style="italic">OAS1</tspan> exon 3</text>
<path d="M644.3,1171.8 L644.3,1185.6 A57.7,20.7 0 0 0 759.7,1185.6 L759.7,1171.8 Z" fill="#f3f3f7" stroke="#2a2a2a" stroke-width="1.3"/>
<path d="M648.3,1174.8 A53.7,18.7 0 0 0 755.7,1174.8 L755.7,1180.8 A53.7,18.7 0 0 1 648.3,1180.8 Z" fill="#efdadd"/>
<path d="M650.3,1187.6 A51.7,17.7 0 0 0 753.7,1187.6" fill="none" stroke="#cfdcee" stroke-width="2"/>
<ellipse cx="702" cy="1171.8" rx="57.7" ry="20.7" fill="#f7f8fb" stroke="#2a2a2a" stroke-width="1.3"/>
<ellipse cx="702" cy="1172.1" rx="54.4" ry="17.3" fill="#f3dbdb" stroke="#2a2a2a" stroke-width="1.2"/>
<path d="M652.3,1172.8 A48.7,13.7 0 0 0 751.7,1172.8" fill="none" stroke="#e3a9ae" stroke-width="0.8"/>
<path d="M688.1,1168.7 Q694.6,1163.2 699.6,1164.2 L709.1,1166.7 Q702.6,1170.7 696.6,1170.2 L688.1,1168.7 Z" fill="#f0d3a4" stroke="#3a3a3a" stroke-width="0.8"/>
<ellipse cx="698.6" cy="1167.2" rx="2" ry="1.5" fill="#9a84c6" stroke="#555" stroke-width="0.4"/>
<path d="M722,1175.8 Q728.5,1170.3 733.5,1171.3 L743,1173.8 Q736.5,1177.8 730.5,1177.3 L722,1175.8 Z" fill="#f0d3a4" stroke="#3a3a3a" stroke-width="0.8"/>
<ellipse cx="732.5" cy="1174.3" rx="2" ry="1.5" fill="#9a84c6" stroke="#555" stroke-width="0.4"/>
<path d="M665.5,1176.7 Q672,1171.2 677,1172.2 L686.5,1174.7 Q680,1178.7 674,1178.2 L665.5,1176.7 Z" fill="#f0d3a4" stroke="#3a3a3a" stroke-width="0.8"/>
<ellipse cx="676" cy="1175.2" rx="2" ry="1.5" fill="#9a84c6" stroke="#555" stroke-width="0.4"/>
<path d="M678.3,1184.3 Q684.8,1178.8 689.8,1179.8 L699.3,1182.3 Q692.8,1186.3 686.8,1185.8 L678.3,1184.3 Z" fill="#f0d3a4" stroke="#3a3a3a" stroke-width="0.8"/>
<ellipse cx="688.8" cy="1182.8" rx="2" ry="1.5" fill="#9a84c6" stroke="#555" stroke-width="0.4"/>
<path d="M706,1181.6 Q712.5,1176.1 717.5,1177.1 L727,1179.6 Q720.5,1183.6 714.5,1183.1 L706,1181.6 Z" fill="#f0d3a4" stroke="#3a3a3a" stroke-width="0.8"/>
<ellipse cx="716.5" cy="1180.1" rx="2" ry="1.5" fill="#9a84c6" stroke="#555" stroke-width="0.4"/>
<path d="M647.8,1291.5 L647.8,1305.3 A57.7,20.7 0 0 0 763.2,1305.3 L763.2,1291.5 Z" fill="#f3f3f7" stroke="#2a2a2a" stroke-width="1.3"/>
<path d="M651.8,1294.5 A53.7,18.7 0 0 0 759.2,1294.5 L759.2,1300.5 A53.7,18.7 0 0 1 651.8,1300.5 Z" fill="#efdadd"/>
<path d="M653.8,1307.3 A51.7,17.7 0 0 0 757.2,1307.3" fill="none" stroke="#cfdcee" stroke-width="2"/>
<ellipse cx="705.5" cy="1291.5" rx="57.7" ry="20.7" fill="#f7f8fb" stroke="#2a2a2a" stroke-width="1.3"/>
<ellipse cx="705.5" cy="1291.8" rx="54.4" ry="17.3" fill="#f3dbdb" stroke="#2a2a2a" stroke-width="1.2"/>
<path d="M655.8,1292.5 A48.7,13.7 0 0 0 755.2,1292.5" fill="none" stroke="#e3a9ae" stroke-width="0.8"/>
<path d="M691.6,1288.4 Q698.1,1282.9 703.1,1283.9 L712.6,1286.4 Q706.1,1290.4 700.1,1289.9 L691.6,1288.4 Z" fill="#f0d3a4" stroke="#3a3a3a" stroke-width="0.8"/>
<ellipse cx="702.1" cy="1286.9" rx="2" ry="1.5" fill="#9a84c6" stroke="#555" stroke-width="0.4"/>
<path d="M725.5,1295.5 Q732,1290 737,1291 L746.5,1293.5 Q740,1297.5 734,1297 L725.5,1295.5 Z" fill="#f0d3a4" stroke="#3a3a3a" stroke-width="0.8"/>
<ellipse cx="736" cy="1294" rx="2" ry="1.5" fill="#9a84c6" stroke="#555" stroke-width="0.4"/>
<path d="M669,1296.4 Q675.5,1290.9 680.5,1291.9 L690,1294.4 Q683.5,1298.4 677.5,1297.9 L669,1296.4 Z" fill="#f0d3a4" stroke="#3a3a3a" stroke-width="0.8"/>
<ellipse cx="679.5" cy="1294.9" rx="2" ry="1.5" fill="#9a84c6" stroke="#555" stroke-width="0.4"/>
<path d="M681.8,1304 Q688.3,1298.5 693.3,1299.5 L702.8,1302 Q696.3,1306 690.3,1305.5 L681.8,1304 Z" fill="#f0d3a4" stroke="#3a3a3a" stroke-width="0.8"/>
<ellipse cx="692.3" cy="1302.5" rx="2" ry="1.5" fill="#9a84c6" stroke="#555" stroke-width="0.4"/>
<path d="M709.5,1301.3 Q716,1295.8 721,1296.8 L730.5,1299.3 Q724,1303.3 718,1302.8 L709.5,1301.3 Z" fill="#f0d3a4" stroke="#3a3a3a" stroke-width="0.8"/>
<ellipse cx="720" cy="1299.8" rx="2" ry="1.5" fill="#9a84c6" stroke="#555" stroke-width="0.4"/>
<text font-size="30" font-weight="bold" transform="translate(0 1518.5) scale(1.080 1)">d</text>
<text font-size="25" transform="translate(143.3 1531.9) scale(1.080 1)">A549</text>
<line x1="159.4" y1="1556.5" x2="159.4" y2="1961.3" stroke="#333" stroke-width="1.8"/>
<line x1="146.9" y1="1557.5" x2="159.4" y2="1557.5" stroke="#333" stroke-width="1.8"/>
<text font-size="25" text-anchor="end" transform="translate(134.5 1566.5) scale(1.080 1)">0</text>
<line x1="146.9" y1="1638.3" x2="159.4" y2="1638.3" stroke="#333" stroke-width="1.8"/>
<text font-size="25" text-anchor="end" transform="translate(134.5 1647.3) scale(1.080 1)">−2</text>
<line x1="146.9" y1="1719" x2="159.4" y2="1719" stroke="#333" stroke-width="1.8"/>
<text font-size="25" text-anchor="end" transform="translate(134.5 1728) scale(1.080 1)">−4</text>
<line x1="146.9" y1="1799.8" x2="159.4" y2="1799.8" stroke="#333" stroke-width="1.8"/>
<text font-size="25" text-anchor="end" transform="translate(134.5 1808.8) scale(1.080 1)">−6</text>
<line x1="146.9" y1="1880.5" x2="159.4" y2="1880.5" stroke="#333" stroke-width="1.8"/>
<text font-size="25" text-anchor="end" transform="translate(134.5 1889.5) scale(1.080 1)">−8</text>
<line x1="146.9" y1="1961.3" x2="159.4" y2="1961.3" stroke="#333" stroke-width="1.8"/>
<text font-size="25" text-anchor="end" transform="translate(134.5 1970.3) scale(1.080 1)">−10</text>
<line x1="145.5" y1="1961.3" x2="921.5" y2="1961.3" stroke="#333" stroke-width="1.8"/>
<line x1="231.6" y1="1961.3" x2="231.6" y2="1973.8" stroke="#333" stroke-width="1.8"/>
<line x1="340" y1="1961.3" x2="340" y2="1973.8" stroke="#333" stroke-width="1.8"/>
<line x1="484.5" y1="1961.3" x2="484.5" y2="1973.8" stroke="#333" stroke-width="1.8"/>
<line x1="593.6" y1="1961.3" x2="593.6" y2="1973.8" stroke="#333" stroke-width="1.8"/>
<line x1="738" y1="1961.3" x2="738" y2="1973.8" stroke="#333" stroke-width="1.8"/>
<line x1="847" y1="1961.3" x2="847" y2="1973.8" stroke="#333" stroke-width="1.8"/>
<text font-size="26" text-anchor="end" transform="translate(247.6 1996) rotate(-45) scale(1.080 1)">Neg ctrl</text>
<text font-size="26" text-anchor="end" transform="translate(356 1996) rotate(-45) scale(1.080 1)">Tri-KD</text>
<text font-size="26" text-anchor="end" transform="translate(500.5 1996) rotate(-45) scale(1.080 1)">Neg ctrl</text>
<text font-size="26" text-anchor="end" transform="translate(609.6 1996) rotate(-45) scale(1.080 1)">Tri-KD</text>
<text font-size="26" text-anchor="end" transform="translate(754 1996) rotate(-45) scale(1.080 1)">Neg ctrl</text>
<text font-size="26" text-anchor="end" transform="translate(863 1996) rotate(-45) scale(1.080 1)">Tri-KD</text>
<text font-size="26" text-anchor="middle" transform="translate(24.9 1762.3) rotate(-90) scale(1.045 1)">Normalized mRNA</text>
<text font-size="26" text-anchor="middle" transform="translate(57.6 1756.4) rotate(-90) scale(1.029 1)">expression, dCt, log<tspan font-size="17" dy="6">2</tspan></text>
<text font-size="25" text-anchor="middle" font-style="italic" transform="translate(289 1653.8) scale(1.080 1)">SMG6</text>
<text font-size="25" text-anchor="middle" transform="translate(289 1686) scale(1.080 1)"><tspan font-style="italic">P</tspan> = 4.0 × 10<tspan font-size="17" dy="-10">−4</tspan></text>
<line x1="237" y1="1697.6" x2="340" y2="1697.6" stroke="#000" stroke-width="2"/>
<text font-size="25" text-anchor="middle" font-style="italic" transform="translate(536.5 1641.5) scale(1.080 1)">SMG7</text>
<text font-size="25" text-anchor="middle" transform="translate(536.5 1675) scale(1.080 1)"><tspan font-style="italic">P</tspan> = 1.0 × 10<tspan font-size="17" dy="-10">−5</tspan></text>
<line x1="484" y1="1689" x2="586.6" y2="1689" stroke="#000" stroke-width="2"/>
<text font-size="25" text-anchor="middle" font-style="italic" transform="translate(803.5 1641.5) scale(1.080 1)">UPF1</text>
<text font-size="25" text-anchor="middle" transform="translate(802 1673.6) scale(1.080 1)"><tspan font-style="italic">P</tspan> = 2.1 × 10<tspan font-size="17" dy="-10">−2</tspan></text>
<line x1="758" y1="1684" x2="846.5" y2="1684" stroke="#000" stroke-width="2"/>
<circle cx="232" cy="1788.5" r="15.3" fill="none" stroke="#951b1f" stroke-width="3.5"/>
<circle cx="210.5" cy="1807" r="15.3" fill="none" stroke="#951b1f" stroke-width="3.5"/>
<circle cx="252.5" cy="1804.3" r="15.3" fill="none" stroke="#951b1f" stroke-width="3.5"/>
<line x1="231.4" y1="1788.7" x2="231.4" y2="1810.3" stroke="#000" stroke-width="3.4"/>
<line x1="211.9" y1="1788.7" x2="250.9" y2="1788.7" stroke="#000" stroke-width="3.4" stroke-linecap="round"/>
<line x1="211.9" y1="1810.3" x2="250.9" y2="1810.3" stroke="#000" stroke-width="3.4" stroke-linecap="round"/>
<line x1="195.4" y1="1799.6" x2="267.4" y2="1799.6" stroke="#000" stroke-width="3.4" stroke-linecap="round"/>
<circle cx="319" cy="1874.4" r="15.3" fill="none" stroke="#1b5c9e" stroke-width="3.5"/>
<circle cx="340.2" cy="1866.5" r="15.3" fill="none" stroke="#1b5c9e" stroke-width="3.5"/>
<circle cx="362.5" cy="1872.6" r="15.3" fill="none" stroke="#1b5c9e" stroke-width="3.5"/>
<line x1="340.3" y1="1867" x2="340.3" y2="1875.8" stroke="#000" stroke-width="3.4"/>
<line x1="321.3" y1="1867" x2="359.3" y2="1867" stroke="#000" stroke-width="3.4" stroke-linecap="round"/>
<line x1="321.3" y1="1875.8" x2="359.3" y2="1875.8" stroke="#000" stroke-width="3.4" stroke-linecap="round"/>
<line x1="304.3" y1="1871" x2="376.3" y2="1871" stroke="#000" stroke-width="3.4" stroke-linecap="round"/>
<circle cx="464" cy="1752.7" r="15.3" fill="none" stroke="#951b1f" stroke-width="3.5"/>
<circle cx="484" cy="1734" r="15.3" fill="none" stroke="#951b1f" stroke-width="3.5"/>
<circle cx="505" cy="1752.7" r="15.3" fill="none" stroke="#951b1f" stroke-width="3.5"/>
<line x1="484.5" y1="1736.7" x2="484.5" y2="1758" stroke="#000" stroke-width="3.4"/>
<line x1="465.5" y1="1736.7" x2="503.5" y2="1736.7" stroke="#000" stroke-width="3.4" stroke-linecap="round"/>
<line x1="465.5" y1="1758" x2="503.5" y2="1758" stroke="#000" stroke-width="3.4" stroke-linecap="round"/>
<line x1="448.5" y1="1747.4" x2="520.5" y2="1747.4" stroke="#000" stroke-width="3.4" stroke-linecap="round"/>
<circle cx="573" cy="1870" r="15.3" fill="none" stroke="#1b5c9e" stroke-width="3.5"/>
<circle cx="593.6" cy="1857" r="15.3" fill="none" stroke="#1b5c9e" stroke-width="3.5"/>
<circle cx="615" cy="1864" r="15.3" fill="none" stroke="#1b5c9e" stroke-width="3.5"/>
<line x1="593.6" y1="1857.5" x2="593.6" y2="1871.4" stroke="#000" stroke-width="3.4"/>
<line x1="574.6" y1="1857.5" x2="612.6" y2="1857.5" stroke="#000" stroke-width="3.4" stroke-linecap="round"/>
<line x1="574.6" y1="1871.4" x2="612.6" y2="1871.4" stroke="#000" stroke-width="3.4" stroke-linecap="round"/>
<line x1="557.6" y1="1865" x2="629.6" y2="1865" stroke="#000" stroke-width="3.4" stroke-linecap="round"/>
<circle cx="719" cy="1728.7" r="15.3" fill="none" stroke="#951b1f" stroke-width="3.5"/>
<circle cx="738" cy="1715" r="15.3" fill="none" stroke="#951b1f" stroke-width="3.5"/>
<circle cx="758" cy="1728.7" r="15.3" fill="none" stroke="#951b1f" stroke-width="3.5"/>
<line x1="738" y1="1717.4" x2="738" y2="1732.4" stroke="#000" stroke-width="3.4"/>
<line x1="719" y1="1717.4" x2="757" y2="1717.4" stroke="#000" stroke-width="3.4" stroke-linecap="round"/>
<line x1="719" y1="1732.4" x2="757" y2="1732.4" stroke="#000" stroke-width="3.4" stroke-linecap="round"/>
<line x1="702" y1="1725.5" x2="774" y2="1725.5" stroke="#000" stroke-width="3.4" stroke-linecap="round"/>
<circle cx="827" cy="1763" r="15.3" fill="none" stroke="#1b5c9e" stroke-width="3.5"/>
<circle cx="847.6" cy="1742" r="15.3" fill="none" stroke="#1b5c9e" stroke-width="3.5"/>
<circle cx="866" cy="1747.4" r="15.3" fill="none" stroke="#1b5c9e" stroke-width="3.5"/>
<line x1="847" y1="1742" x2="847" y2="1764" stroke="#000" stroke-width="3.4"/>
<line x1="828" y1="1742" x2="866" y2="1742" stroke="#000" stroke-width="3.4" stroke-linecap="round"/>
<line x1="828" y1="1764" x2="866" y2="1764" stroke="#000" stroke-width="3.4" stroke-linecap="round"/>
<line x1="811" y1="1753" x2="883" y2="1753" stroke="#000" stroke-width="3.4" stroke-linecap="round"/>
<text font-size="30" font-weight="bold" transform="translate(0 2149) scale(1.080 1)">f</text>
<text font-size="25" transform="translate(139 2164) scale(1.080 1)">HT1376</text>
<line x1="155" y1="2188.8" x2="155" y2="2601.6" stroke="#333" stroke-width="1.8"/>
<line x1="142.5" y1="2189.8" x2="155" y2="2189.8" stroke="#333" stroke-width="1.8"/>
<text font-size="25" text-anchor="end" transform="translate(132 2198.8) scale(1.080 1)">0</text>
<line x1="142.5" y1="2292.5" x2="155" y2="2292.5" stroke="#333" stroke-width="1.8"/>
<text font-size="25" text-anchor="end" transform="translate(132 2301.5) scale(1.080 1)">−2</text>
<line x1="142.5" y1="2395.7" x2="155" y2="2395.7" stroke="#333" stroke-width="1.8"/>
<text font-size="25" text-anchor="end" transform="translate(132 2404.7) scale(1.080 1)">−4</text>
<line x1="142.5" y1="2498.4" x2="155" y2="2498.4" stroke="#333" stroke-width="1.8"/>
<text font-size="25" text-anchor="end" transform="translate(132 2507.4) scale(1.080 1)">−6</text>
<line x1="142.5" y1="2601.6" x2="155" y2="2601.6" stroke="#333" stroke-width="1.8"/>
<text font-size="25" text-anchor="end" transform="translate(132 2610.6) scale(1.080 1)">−8</text>
<line x1="141.7" y1="2601.6" x2="907" y2="2601.6" stroke="#333" stroke-width="1.8"/>
<line x1="227.3" y1="2601.6" x2="227.3" y2="2614.1" stroke="#333" stroke-width="1.8"/>
<line x1="334.2" y1="2601.6" x2="334.2" y2="2614.1" stroke="#333" stroke-width="1.8"/>
<line x1="476" y1="2601.6" x2="476" y2="2614.1" stroke="#333" stroke-width="1.8"/>
<line x1="584" y1="2601.6" x2="584" y2="2614.1" stroke="#333" stroke-width="1.8"/>
<line x1="725.7" y1="2601.6" x2="725.7" y2="2614.1" stroke="#333" stroke-width="1.8"/>
<line x1="833" y1="2601.6" x2="833" y2="2614.1" stroke="#333" stroke-width="1.8"/>
<text font-size="26" text-anchor="end" transform="translate(243.3 2636.5) rotate(-45) scale(1.080 1)">Neg ctrl</text>
<text font-size="26" text-anchor="end" transform="translate(350.2 2636.5) rotate(-45) scale(1.080 1)">Tri-KD</text>
<text font-size="26" text-anchor="end" transform="translate(492 2636.5) rotate(-45) scale(1.080 1)">Neg ctrl</text>
<text font-size="26" text-anchor="end" transform="translate(600 2636.5) rotate(-45) scale(1.080 1)">Tri-KD</text>
<text font-size="26" text-anchor="end" transform="translate(741.7 2636.5) rotate(-45) scale(1.080 1)">Neg ctrl</text>
<text font-size="26" text-anchor="end" transform="translate(849 2636.5) rotate(-45) scale(1.080 1)">Tri-KD</text>
<text font-size="26" text-anchor="middle" transform="translate(30.4 2398.9) rotate(-90) scale(1.045 1)">Normalized mRNA</text>
<text font-size="26" text-anchor="middle" transform="translate(63.1 2396.1) rotate(-90) scale(1.029 1)">expression, dCt, log<tspan font-size="17" dy="6">2</tspan></text>
<text font-size="25" text-anchor="middle" font-style="italic" transform="translate(285 2445) scale(1.080 1)">SMG6</text>
<text font-size="25" text-anchor="middle" transform="translate(284 2477) scale(1.080 1)"><tspan font-style="italic">P</tspan> = 3.10 × 10<tspan font-size="17" dy="-10">−3</tspan></text>
<line x1="232.6" y1="2490.4" x2="334.2" y2="2490.4" stroke="#000" stroke-width="2"/>
<text font-size="25" text-anchor="middle" font-style="italic" transform="translate(550 2266.8) scale(1.080 1)">SMG7</text>
<text font-size="25" text-anchor="middle" transform="translate(549.7 2300.5) scale(1.080 1)"><tspan font-style="italic">P</tspan> = 4.0 × 10<tspan font-size="17" dy="-10">−4</tspan></text>
<line x1="498.4" y1="2311" x2="600" y2="2311" stroke="#000" stroke-width="2"/>
<text font-size="25" text-anchor="middle" font-style="italic" transform="translate(795.5 2263) scale(1.080 1)">UPF1</text>
<text font-size="25" text-anchor="middle" transform="translate(795 2296.3) scale(1.080 1)"><tspan font-style="italic">P</tspan> = 6.8 × 10<tspan font-size="17" dy="-10">−3</tspan></text>
<line x1="736.4" y1="2309.6" x2="853" y2="2309.6" stroke="#000" stroke-width="2"/>
<circle cx="205.9" cy="2525" r="15.3" fill="none" stroke="#951b1f" stroke-width="3.5"/>
<circle cx="227.3" cy="2509" r="15.3" fill="none" stroke="#951b1f" stroke-width="3.5"/>
<circle cx="247" cy="2521" r="15.3" fill="none" stroke="#951b1f" stroke-width="3.5"/>
<line x1="227.3" y1="2515" x2="227.3" y2="2526" stroke="#000" stroke-width="3.4"/>
<line x1="208.3" y1="2515" x2="246.3" y2="2515" stroke="#000" stroke-width="3.4" stroke-linecap="round"/>
<line x1="208.3" y1="2526" x2="246.3" y2="2526" stroke="#000" stroke-width="3.4" stroke-linecap="round"/>
<line x1="191.3" y1="2520.9" x2="263.3" y2="2520.9" stroke="#000" stroke-width="3.4" stroke-linecap="round"/>
<circle cx="314.4" cy="2573" r="15.3" fill="none" stroke="#1b5c9e" stroke-width="3.5"/>
<circle cx="334.2" cy="2562.6" r="15.3" fill="none" stroke="#1b5c9e" stroke-width="3.5"/>
<circle cx="353" cy="2569" r="15.3" fill="none" stroke="#1b5c9e" stroke-width="3.5"/>
<line x1="334.2" y1="2565" x2="334.2" y2="2575" stroke="#000" stroke-width="3.4"/>
<line x1="315.2" y1="2565" x2="353.2" y2="2565" stroke="#000" stroke-width="3.4" stroke-linecap="round"/>
<line x1="315.2" y1="2575" x2="353.2" y2="2575" stroke="#000" stroke-width="3.4" stroke-linecap="round"/>
<line x1="298.2" y1="2569.5" x2="370.2" y2="2569.5" stroke="#000" stroke-width="3.4" stroke-linecap="round"/>
<circle cx="456" cy="2371.7" r="15.3" fill="none" stroke="#951b1f" stroke-width="3.5"/>
<circle cx="476" cy="2347" r="15.3" fill="none" stroke="#951b1f" stroke-width="3.5"/>
<circle cx="494.7" cy="2363" r="15.3" fill="none" stroke="#951b1f" stroke-width="3.5"/>
<line x1="476" y1="2349" x2="476" y2="2373.8" stroke="#000" stroke-width="3.4"/>
<line x1="457" y1="2349" x2="495" y2="2349" stroke="#000" stroke-width="3.4" stroke-linecap="round"/>
<line x1="457" y1="2373.8" x2="495" y2="2373.8" stroke="#000" stroke-width="3.4" stroke-linecap="round"/>
<line x1="440" y1="2361" x2="512" y2="2361" stroke="#000" stroke-width="3.4" stroke-linecap="round"/>
<circle cx="564" cy="2450" r="15.3" fill="none" stroke="#1b5c9e" stroke-width="3.5"/>
<circle cx="584" cy="2442" r="15.3" fill="none" stroke="#1b5c9e" stroke-width="3.5"/>
<circle cx="603" cy="2444" r="15.3" fill="none" stroke="#1b5c9e" stroke-width="3.5"/>
<line x1="584" y1="2442" x2="584" y2="2450" stroke="#000" stroke-width="3.4"/>
<line x1="565" y1="2442" x2="603" y2="2442" stroke="#000" stroke-width="3.4" stroke-linecap="round"/>
<line x1="565" y1="2450" x2="603" y2="2450" stroke="#000" stroke-width="3.4" stroke-linecap="round"/>
<line x1="548" y1="2446.5" x2="620" y2="2446.5" stroke="#000" stroke-width="3.4" stroke-linecap="round"/>
<circle cx="706" cy="2346" r="15.3" fill="none" stroke="#951b1f" stroke-width="3.5"/>
<circle cx="726" cy="2343" r="15.3" fill="none" stroke="#951b1f" stroke-width="3.5"/>
<circle cx="744" cy="2344" r="15.3" fill="none" stroke="#951b1f" stroke-width="3.5"/>
<line x1="725.7" y1="2342" x2="725.7" y2="2346" stroke="#000" stroke-width="3.4"/>
<line x1="706.7" y1="2342" x2="744.7" y2="2342" stroke="#000" stroke-width="3.4" stroke-linecap="round"/>
<line x1="706.7" y1="2346" x2="744.7" y2="2346" stroke="#000" stroke-width="3.4" stroke-linecap="round"/>
<line x1="689.7" y1="2344" x2="761.7" y2="2344" stroke="#000" stroke-width="3.4" stroke-linecap="round"/>
<circle cx="814" cy="2396.8" r="15.3" fill="none" stroke="#1b5c9e" stroke-width="3.5"/>
<circle cx="833" cy="2375.4" r="15.3" fill="none" stroke="#1b5c9e" stroke-width="3.5"/>
<circle cx="853" cy="2379" r="15.3" fill="none" stroke="#1b5c9e" stroke-width="3.5"/>
<line x1="833" y1="2371" x2="833" y2="2395.7" stroke="#000" stroke-width="3.4"/>
<line x1="814" y1="2371" x2="852" y2="2371" stroke="#000" stroke-width="3.4" stroke-linecap="round"/>
<line x1="814" y1="2395.7" x2="852" y2="2395.7" stroke="#000" stroke-width="3.4" stroke-linecap="round"/>
<line x1="797" y1="2383.4" x2="869" y2="2383.4" stroke="#000" stroke-width="3.4" stroke-linecap="round"/>
<text font-size="30" font-weight="bold" transform="translate(972.7 1518.3) scale(1.080 1)">e</text>
<text font-size="25" transform="translate(1117.5 1532) scale(1.080 1)">A549</text>
<text font-size="26" text-anchor="middle" transform="translate(995 1767) rotate(-90) scale(1.045 1)">Normalized mRNA</text>
<text font-size="26" text-anchor="middle" transform="translate(1027.7 1765.8) rotate(-90) scale(1.029 1)">expression, dCt, log<tspan font-size="17" dy="6">2</tspan></text>
<line x1="1144.5" y1="1567.2" x2="1144.5" y2="1961.7" stroke="#333" stroke-width="1.8"/>
<line x1="1132" y1="1568.2" x2="1144.5" y2="1568.2" stroke="#333" stroke-width="1.8"/>
<text font-size="25" text-anchor="end" transform="translate(1121 1577.2) scale(1.080 1)">−0.8</text>
<line x1="1132" y1="1699.6" x2="1144.5" y2="1699.6" stroke="#333" stroke-width="1.8"/>
<text font-size="25" text-anchor="end" transform="translate(1121 1708.6) scale(1.080 1)">−1.2</text>
<line x1="1132" y1="1830.7" x2="1144.5" y2="1830.7" stroke="#333" stroke-width="1.8"/>
<text font-size="25" text-anchor="end" transform="translate(1121 1839.7) scale(1.080 1)">−1.6</text>
<line x1="1132" y1="1961.7" x2="1144.5" y2="1961.7" stroke="#333" stroke-width="1.8"/>
<text font-size="25" text-anchor="end" transform="translate(1121 1970.7) scale(1.080 1)">−2.0</text>
<line x1="1132" y1="1961.7" x2="1552" y2="1961.7" stroke="#333" stroke-width="1.8"/>
<line x1="1261" y1="1961.7" x2="1261" y2="1974.2" stroke="#333" stroke-width="1.8"/>
<line x1="1435.7" y1="1961.7" x2="1435.7" y2="1974.2" stroke="#333" stroke-width="1.8"/>
<text font-size="25" text-anchor="middle" transform="translate(1339.4 1544.5) scale(1.080 1)">Long-<tspan font-style="italic">p42</tspan></text>
<text font-size="25" text-anchor="middle" transform="translate(1339.4 1576.5) scale(1.080 1)"><tspan font-style="italic">P</tspan> = 4.0 × 10<tspan font-size="17" dy="-10">−2</tspan></text>
<line x1="1261" y1="1590.6" x2="1415.7" y2="1590.6" stroke="#000" stroke-width="2"/>
<circle cx="1234" cy="1817.8" r="13.3" fill="none" stroke="#951b1f" stroke-width="3.6"/>
<circle cx="1287.6" cy="1817.8" r="13.3" fill="none" stroke="#951b1f" stroke-width="3.6"/>
<circle cx="1261" cy="1926" r="13.3" fill="none" stroke="#951b1f" stroke-width="3.6"/>
<circle cx="1435.7" cy="1640" r="13.3" fill="none" stroke="#1b5c9e" stroke-width="3.6"/>
<circle cx="1435.7" cy="1703" r="13.3" fill="none" stroke="#1b5c9e" stroke-width="3.6"/>
<circle cx="1435.7" cy="1767.9" r="13.3" fill="none" stroke="#1b5c9e" stroke-width="3.6"/>
<line x1="1261" y1="1791" x2="1261" y2="1916" stroke="#000" stroke-width="3.4"/>
<line x1="1230.8" y1="1791" x2="1291.2" y2="1791" stroke="#000" stroke-width="3.4" stroke-linecap="round"/>
<line x1="1230.8" y1="1916" x2="1291.2" y2="1916" stroke="#000" stroke-width="3.4" stroke-linecap="round"/>
<line x1="1203" y1="1853.5" x2="1319" y2="1853.5" stroke="#000" stroke-width="3.4" stroke-linecap="round"/>
<line x1="1435.7" y1="1639.7" x2="1435.7" y2="1767.9" stroke="#000" stroke-width="3.4"/>
<line x1="1405.5" y1="1639.7" x2="1466" y2="1639.7" stroke="#000" stroke-width="3.4" stroke-linecap="round"/>
<line x1="1405.5" y1="1767.9" x2="1466" y2="1767.9" stroke="#000" stroke-width="3.4" stroke-linecap="round"/>
<line x1="1377.7" y1="1704.6" x2="1493.7" y2="1704.6" stroke="#000" stroke-width="3.4" stroke-linecap="round"/>
<text font-size="26" text-anchor="end" transform="translate(1277 1998.5) rotate(-45) scale(1.080 1)">Neg ctrl</text>
<text font-size="26" text-anchor="end" transform="translate(1451.7 1998.5) rotate(-45) scale(1.080 1)">Tri-KD</text>
<line x1="1676.3" y1="1567.5" x2="1676.3" y2="1961.6" stroke="#333" stroke-width="1.8"/>
<line x1="1663.8" y1="1568.5" x2="1676.3" y2="1568.5" stroke="#333" stroke-width="1.8"/>
<text font-size="25" text-anchor="end" transform="translate(1652.5 1577.5) scale(1.080 1)">−5.5</text>
<line x1="1663.8" y1="1666.7" x2="1676.3" y2="1666.7" stroke="#333" stroke-width="1.8"/>
<text font-size="25" text-anchor="end" transform="translate(1652.5 1675.7) scale(1.080 1)">−6.0</text>
<line x1="1663.8" y1="1765.2" x2="1676.3" y2="1765.2" stroke="#333" stroke-width="1.8"/>
<text font-size="25" text-anchor="end" transform="translate(1652.5 1774.2) scale(1.080 1)">−6.5</text>
<line x1="1663.8" y1="1863.4" x2="1676.3" y2="1863.4" stroke="#333" stroke-width="1.8"/>
<text font-size="25" text-anchor="end" transform="translate(1652.5 1872.4) scale(1.080 1)">−7.0</text>
<line x1="1663.8" y1="1961.6" x2="1676.3" y2="1961.6" stroke="#333" stroke-width="1.8"/>
<text font-size="25" text-anchor="end" transform="translate(1652.5 1970.6) scale(1.080 1)">−7.5</text>
<line x1="1663.8" y1="1961.6" x2="2084" y2="1961.6" stroke="#333" stroke-width="1.8"/>
<line x1="1792.5" y1="1961.6" x2="1792.5" y2="1974.1" stroke="#333" stroke-width="1.8"/>
<line x1="1967.4" y1="1961.6" x2="1967.4" y2="1974.1" stroke="#333" stroke-width="1.8"/>
<text font-size="25" text-anchor="middle" transform="translate(1889 1548.4) scale(1.080 1)">Short-<tspan font-style="italic">p42</tspan></text>
<text font-size="25" text-anchor="middle" transform="translate(1889 1581.3) scale(1.080 1)"><tspan font-style="italic">P</tspan> = 4.3 × 10<tspan font-size="17" dy="-10">−3</tspan></text>
<line x1="1809.9" y1="1598.7" x2="1965" y2="1598.7" stroke="#000" stroke-width="2"/>
<circle cx="1792.5" cy="1794.7" r="13.3" fill="none" stroke="#951b1f" stroke-width="3.6"/>
<circle cx="1765.4" cy="1867.6" r="13.3" fill="none" stroke="#951b1f" stroke-width="3.6"/>
<circle cx="1819.2" cy="1853.7" r="13.3" fill="none" stroke="#951b1f" stroke-width="3.6"/>
<circle cx="1940" cy="1650.7" r="13.3" fill="none" stroke="#1b5c9e" stroke-width="3.6"/>
<circle cx="1994.4" cy="1664.6" r="13.3" fill="none" stroke="#1b5c9e" stroke-width="3.6"/>
<circle cx="1967.4" cy="1708" r="13.3" fill="none" stroke="#1b5c9e" stroke-width="3.6"/>
<line x1="1792.5" y1="1800" x2="1792.5" y2="1877.3" stroke="#000" stroke-width="3.4"/>
<line x1="1762.2" y1="1800" x2="1822.8" y2="1800" stroke="#000" stroke-width="3.4" stroke-linecap="round"/>
<line x1="1762.2" y1="1877.3" x2="1822.8" y2="1877.3" stroke="#000" stroke-width="3.4" stroke-linecap="round"/>
<line x1="1734.5" y1="1838.4" x2="1850.5" y2="1838.4" stroke="#000" stroke-width="3.4" stroke-linecap="round"/>
<line x1="1967.4" y1="1644.8" x2="1967.4" y2="1704.5" stroke="#000" stroke-width="3.4"/>
<line x1="1937.2" y1="1644.8" x2="1997.7" y2="1644.8" stroke="#000" stroke-width="3.4" stroke-linecap="round"/>
<line x1="1937.2" y1="1704.5" x2="1997.7" y2="1704.5" stroke="#000" stroke-width="3.4" stroke-linecap="round"/>
<line x1="1909.4" y1="1674.7" x2="2025.4" y2="1674.7" stroke="#000" stroke-width="3.4" stroke-linecap="round"/>
<text font-size="26" text-anchor="end" transform="translate(1808.5 1998.5) rotate(-45) scale(1.080 1)">Neg ctrl</text>
<text font-size="26" text-anchor="end" transform="translate(1983.4 1998.5) rotate(-45) scale(1.080 1)">Tri-KD</text>
<text font-size="31" font-weight="bold" style="font-family:'Liberation Serif',serif" transform="translate(969.5 2147) scale(1.080 1)">g</text>
<text font-size="25" transform="translate(1083.5 2163.7) scale(1.080 1)">HT1376</text>
<text font-size="26" text-anchor="middle" transform="translate(992.7 2410.1) rotate(-90) scale(1.045 1)">Normalized mRNA</text>
<text font-size="26" text-anchor="middle" transform="translate(1025.4 2406.2) rotate(-90) scale(1.029 1)">expression, dCt, log<tspan font-size="17" dy="6">2</tspan></text>
<line x1="1144" y1="2206.4" x2="1144" y2="2600.6" stroke="#333" stroke-width="1.8"/>
<line x1="1131.5" y1="2207.4" x2="1144" y2="2207.4" stroke="#333" stroke-width="1.8"/>
<text font-size="25" text-anchor="end" transform="translate(1120.5 2216.4) scale(1.080 1)">0.5</text>
<line x1="1131.5" y1="2286" x2="1144" y2="2286" stroke="#333" stroke-width="1.8"/>
<text font-size="25" text-anchor="end" transform="translate(1120.5 2295) scale(1.080 1)">0</text>
<line x1="1131.5" y1="2365" x2="1144" y2="2365" stroke="#333" stroke-width="1.8"/>
<text font-size="25" text-anchor="end" transform="translate(1120.5 2374) scale(1.080 1)">−0.5</text>
<line x1="1131.5" y1="2443.4" x2="1144" y2="2443.4" stroke="#333" stroke-width="1.8"/>
<text font-size="25" text-anchor="end" transform="translate(1120.5 2452.4) scale(1.080 1)">−1.0</text>
<line x1="1131.5" y1="2522" x2="1144" y2="2522" stroke="#333" stroke-width="1.8"/>
<text font-size="25" text-anchor="end" transform="translate(1120.5 2531) scale(1.080 1)">−1.5</text>
<line x1="1131.5" y1="2600.6" x2="1144" y2="2600.6" stroke="#333" stroke-width="1.8"/>
<text font-size="25" text-anchor="end" transform="translate(1120.5 2609.6) scale(1.080 1)">−2.0</text>
<line x1="1131.5" y1="2600.6" x2="1551.4" y2="2600.6" stroke="#333" stroke-width="1.8"/>
<line x1="1260.4" y1="2600.6" x2="1260.4" y2="2613.1" stroke="#333" stroke-width="1.8"/>
<line x1="1435" y1="2600.6" x2="1435" y2="2613.1" stroke="#333" stroke-width="1.8"/>
<text font-size="25" text-anchor="middle" transform="translate(1339.5 2183) scale(1.080 1)">Long-<tspan font-style="italic">p46</tspan></text>
<text font-size="25" text-anchor="middle" transform="translate(1339.5 2215) scale(1.080 1)"><tspan font-style="italic">P</tspan> = 2.0 × 10<tspan font-size="17" dy="-10">−1</tspan></text>
<line x1="1261" y1="2230" x2="1415.6" y2="2230" stroke="#000" stroke-width="2"/>
<circle cx="1260.4" cy="2397.4" r="13.3" fill="none" stroke="#951b1f" stroke-width="3.6"/>
<circle cx="1260.4" cy="2486.2" r="13.3" fill="none" stroke="#951b1f" stroke-width="3.6"/>
<circle cx="1260.4" cy="2544.2" r="13.3" fill="none" stroke="#951b1f" stroke-width="3.6"/>
<circle cx="1435" cy="2260.3" r="13.3" fill="none" stroke="#1b5c9e" stroke-width="3.6"/>
<circle cx="1409" cy="2404.4" r="13.3" fill="none" stroke="#1b5c9e" stroke-width="3.6"/>
<circle cx="1462" cy="2387.8" r="13.3" fill="none" stroke="#1b5c9e" stroke-width="3.6"/>
<line x1="1260.4" y1="2402.4" x2="1260.4" y2="2550.7" stroke="#000" stroke-width="3.4"/>
<line x1="1230.2" y1="2402.4" x2="1290.7" y2="2402.4" stroke="#000" stroke-width="3.4" stroke-linecap="round"/>
<line x1="1230.2" y1="2550.7" x2="1290.7" y2="2550.7" stroke="#000" stroke-width="3.4" stroke-linecap="round"/>
<line x1="1202.4" y1="2476.6" x2="1318.4" y2="2476.6" stroke="#000" stroke-width="3.4" stroke-linecap="round"/>
<line x1="1435" y1="2271.9" x2="1435" y2="2429.5" stroke="#000" stroke-width="3.4"/>
<line x1="1404.8" y1="2271.9" x2="1465.2" y2="2271.9" stroke="#000" stroke-width="3.4" stroke-linecap="round"/>
<line x1="1404.8" y1="2429.5" x2="1465.2" y2="2429.5" stroke="#000" stroke-width="3.4" stroke-linecap="round"/>
<line x1="1377" y1="2351" x2="1493" y2="2351" stroke="#000" stroke-width="3.4" stroke-linecap="round"/>
<text font-size="26" text-anchor="end" transform="translate(1276.4 2638.5) rotate(-45) scale(1.080 1)">Neg ctrl</text>
<text font-size="26" text-anchor="end" transform="translate(1451 2638.5) rotate(-45) scale(1.080 1)">Tri-KD</text>
<line x1="1675.6" y1="2206.6" x2="1675.6" y2="2600.7" stroke="#333" stroke-width="1.8"/>
<line x1="1663.1" y1="2207.6" x2="1675.6" y2="2207.6" stroke="#333" stroke-width="1.8"/>
<text font-size="25" text-anchor="end" transform="translate(1652.5 2216.6) scale(1.080 1)">−6.5</text>
<line x1="1663.1" y1="2305.8" x2="1675.6" y2="2305.8" stroke="#333" stroke-width="1.8"/>
<text font-size="25" text-anchor="end" transform="translate(1652.5 2314.8) scale(1.080 1)">−7.0</text>
<line x1="1663.1" y1="2404" x2="1675.6" y2="2404" stroke="#333" stroke-width="1.8"/>
<text font-size="25" text-anchor="end" transform="translate(1652.5 2413) scale(1.080 1)">−7.5</text>
<line x1="1663.1" y1="2502.5" x2="1675.6" y2="2502.5" stroke="#333" stroke-width="1.8"/>
<text font-size="25" text-anchor="end" transform="translate(1652.5 2511.5) scale(1.080 1)">−8.0</text>
<line x1="1663.1" y1="2600.7" x2="1675.6" y2="2600.7" stroke="#333" stroke-width="1.8"/>
<text font-size="25" text-anchor="end" transform="translate(1652.5 2609.7) scale(1.080 1)">−8.5</text>
<line x1="1663.1" y1="2600.7" x2="2084" y2="2600.7" stroke="#333" stroke-width="1.8"/>
<line x1="1791.8" y1="2600.7" x2="1791.8" y2="2613.2" stroke="#333" stroke-width="1.8"/>
<line x1="1966.7" y1="2600.7" x2="1966.7" y2="2613.2" stroke="#333" stroke-width="1.8"/>
<text font-size="25" text-anchor="middle" transform="translate(1874.7 2202.4) scale(1.080 1)">Short-<tspan font-style="italic">p46</tspan></text>
<text font-size="25" text-anchor="middle" transform="translate(1874.7 2234.6) scale(1.080 1)"><tspan font-style="italic">P</tspan> = 1.0 × 10<tspan font-size="17" dy="-10">−2</tspan></text>
<line x1="1796.7" y1="2245" x2="1951" y2="2245" stroke="#000" stroke-width="2"/>
<circle cx="1791.8" cy="2435.9" r="13.3" fill="none" stroke="#951b1f" stroke-width="3.6"/>
<circle cx="1791.8" cy="2532" r="13.3" fill="none" stroke="#951b1f" stroke-width="3.6"/>
<circle cx="1791.8" cy="2559.7" r="13.3" fill="none" stroke="#951b1f" stroke-width="3.6"/>
<circle cx="1966.7" cy="2279.4" r="13.3" fill="none" stroke="#1b5c9e" stroke-width="3.6"/>
<circle cx="1966.7" cy="2310" r="13.3" fill="none" stroke="#1b5c9e" stroke-width="3.6"/>
<circle cx="1966.7" cy="2351.6" r="13.3" fill="none" stroke="#1b5c9e" stroke-width="3.6"/>
<line x1="1791.8" y1="2444.5" x2="1791.8" y2="2574.3" stroke="#000" stroke-width="3.4"/>
<line x1="1761.5" y1="2444.5" x2="1822" y2="2444.5" stroke="#000" stroke-width="3.4" stroke-linecap="round"/>
<line x1="1761.5" y1="2574.3" x2="1822" y2="2574.3" stroke="#000" stroke-width="3.4" stroke-linecap="round"/>
<line x1="1733.8" y1="2509.4" x2="1849.8" y2="2509.4" stroke="#000" stroke-width="3.4" stroke-linecap="round"/>
<line x1="1966.7" y1="2277" x2="1966.7" y2="2349" stroke="#000" stroke-width="3.4"/>
<line x1="1936.5" y1="2277" x2="1997" y2="2277" stroke="#000" stroke-width="3.4" stroke-linecap="round"/>
<line x1="1936.5" y1="2349" x2="1997" y2="2349" stroke="#000" stroke-width="3.4" stroke-linecap="round"/>
<line x1="1908.7" y1="2313.4" x2="2024.7" y2="2313.4" stroke="#000" stroke-width="3.4" stroke-linecap="round"/>
<text font-size="26" text-anchor="end" transform="translate(1807.8 2638.5) rotate(-45) scale(1.080 1)">Neg ctrl</text>
<text font-size="26" text-anchor="end" transform="translate(1982.7 2638.5) rotate(-45) scale(1.080 1)">Tri-KD</text>
</svg>
</body></html>
